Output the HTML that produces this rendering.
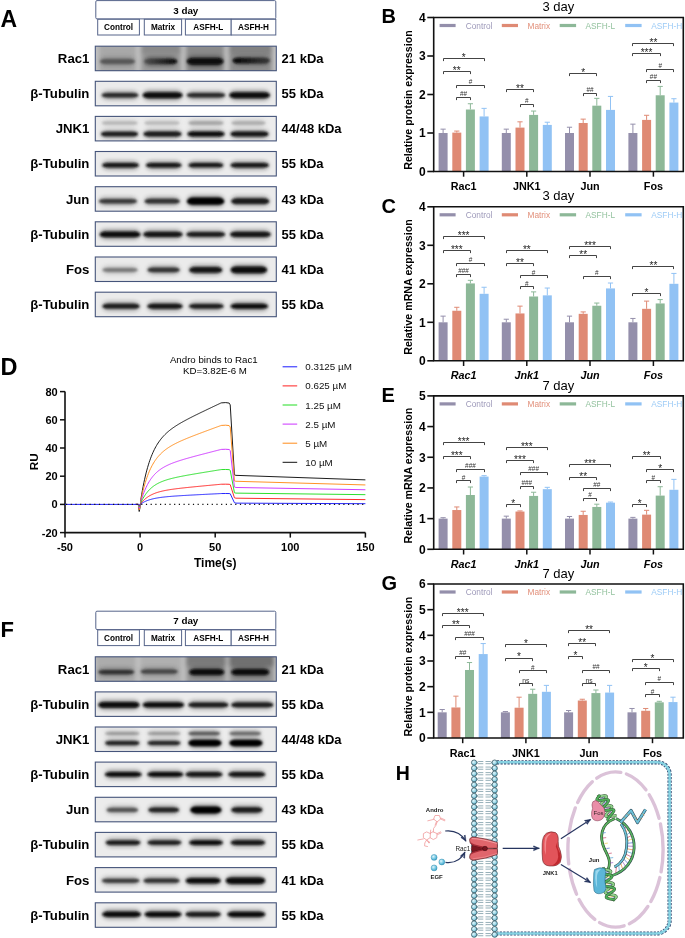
<!DOCTYPE html>
<html><head><meta charset="utf-8"><title>Figure</title>
<style>
html,body{margin:0;padding:0;background:#fff;}
body{width:685px;height:938px;overflow:hidden;}
svg{display:block;font-family:"Liberation Sans", sans-serif;will-change:transform;}
</style></head><body>
<svg width="685" height="938" viewBox="0 0 685 938">
<defs><filter id="blur1" x="-10%" y="-50%" width="120%" height="200%"><feGaussianBlur stdDeviation="0.9"/></filter><filter id="blur3" x="-20%" y="-50%" width="140%" height="200%"><feGaussianBlur stdDeviation="2.2"/></filter></defs>
<rect width="685" height="938" fill="#fff"/>
<rect x="95.8" y="0.60" width="180" height="18.3" rx="1.2" fill="#fff" stroke="#56648a" stroke-width="1"/>
<text x="185.80" y="13.60" font-size="9.8" font-weight="bold" text-anchor="middle" fill="#000" >3 day</text>
<rect x="97.70" y="19.30" width="41.70" height="15.70" fill="#fff" stroke="#56648a" stroke-width="1"/>
<text x="118.55" y="30.00" font-size="8.2" font-weight="bold" text-anchor="middle" fill="#000" >Control</text>
<rect x="144.30" y="19.30" width="37.30" height="15.70" fill="#fff" stroke="#56648a" stroke-width="1"/>
<text x="162.95" y="30.00" font-size="8.2" font-weight="bold" text-anchor="middle" fill="#000" >Matrix</text>
<rect x="185.40" y="19.30" width="45.80" height="15.70" fill="#fff" stroke="#56648a" stroke-width="1"/>
<text x="208.30" y="30.00" font-size="8.2" font-weight="bold" text-anchor="middle" fill="#000" >ASFH-L</text>
<rect x="231.20" y="19.30" width="44.60" height="15.70" fill="#fff" stroke="#56648a" stroke-width="1"/>
<text x="253.50" y="30.00" font-size="8.2" font-weight="bold" text-anchor="middle" fill="#000" >ASFH-H</text>
<text x="89.40" y="63.15" font-size="13.2" font-weight="bold" text-anchor="end" fill="#000" >Rac1</text>
<text x="281.60" y="63.15" font-size="13.0" font-weight="bold" text-anchor="start" fill="#000" >21 kDa</text>
<clipPath id="cg0_0"><rect x="95.3" y="46.20" width="181.00" height="24.5"/></clipPath>
<g clip-path="url(#cg0_0)">
<rect x="95.3" y="46.20" width="181.00" height="24.5" fill="#c2c2c2"/>
<g filter="url(#blur3)">
<rect x="99.00" y="43.20" width="37.00" height="33.00" fill="#a8a8a8"/>
<rect x="141.00" y="43.20" width="40.00" height="33.00" fill="#9a9a9a"/>
<rect x="186.00" y="43.20" width="38.00" height="33.00" fill="#8a8a8a"/>
<rect x="229.00" y="43.20" width="43.00" height="33.00" fill="#8e8e8e"/>
<rect x="141.00" y="43.20" width="40.00" height="11.00" fill="#8a8a8a"/>
<rect x="229.00" y="43.20" width="43.00" height="11.00" fill="#828282"/>
</g>
<g filter="url(#blur3)" opacity="0.4">
<rect x="100.20" y="57.00" width="34.60" height="9.00" rx="6.00" ry="4.50" fill="#585858"/>
<rect x="144.50" y="56.80" width="32.50" height="9.20" rx="6.00" ry="4.60" fill="#080808"/>
<rect x="187.00" y="55.90" width="36.30" height="10.80" rx="6.00" ry="5.40" fill="#080808"/>
<rect x="232.70" y="55.70" width="37.00" height="9.80" rx="6.00" ry="4.90" fill="#3a3a3a"/>
</g>
<g filter="url(#blur1)">
<rect x="100.20" y="59.00" width="34.60" height="5.00" rx="6.00" ry="2.50" fill="#585858"/>
<linearGradient id="lg0_0_1" x1="0" y1="0" x2="1" y2="0"><stop offset="0" stop-color="#505050"/><stop offset="1" stop-color="#080808"/></linearGradient>
<rect x="144.50" y="58.80" width="32.50" height="5.20" rx="6.00" ry="2.60" fill="url(#lg0_0_1)"/>
<rect x="187.00" y="57.90" width="36.30" height="6.80" rx="6.00" ry="3.40" fill="#080808"/>
<linearGradient id="lg0_0_3" x1="0" y1="0" x2="1" y2="0"><stop offset="0" stop-color="#060606"/><stop offset="1" stop-color="#3a3a3a"/></linearGradient>
<rect x="232.70" y="57.70" width="37.00" height="5.80" rx="6.00" ry="2.90" fill="url(#lg0_0_3)"/>
</g>
</g>
<rect x="95.3" y="46.20" width="181.00" height="24.5" fill="none" stroke="#45547a" stroke-width="1.1"/>
<text x="89.40" y="98.25" font-size="13.2" font-weight="bold" text-anchor="end" fill="#000" >β-Tubulin</text>
<text x="281.60" y="98.25" font-size="13.0" font-weight="bold" text-anchor="start" fill="#000" >55 kDa</text>
<clipPath id="cg0_1"><rect x="95.3" y="81.30" width="181.00" height="24.5"/></clipPath>
<g clip-path="url(#cg0_1)">
<rect x="95.3" y="81.30" width="181.00" height="24.5" fill="#ebebeb"/>
<g filter="url(#blur3)" opacity="0.4">
<rect x="101.90" y="90.90" width="36.30" height="8.60" rx="6.00" ry="4.30" fill="#2a2a2a"/>
<rect x="142.80" y="90.20" width="39.60" height="10.00" rx="6.00" ry="5.00" fill="#101010"/>
<rect x="187.00" y="90.90" width="38.00" height="8.60" rx="6.00" ry="4.30" fill="#2c2c2c"/>
<rect x="229.40" y="90.20" width="40.40" height="10.00" rx="6.00" ry="5.00" fill="#0c0c0c"/>
</g>
<g filter="url(#blur1)">
<rect x="101.90" y="92.90" width="36.30" height="4.60" rx="6.00" ry="2.30" fill="#2a2a2a"/>
<rect x="142.80" y="92.20" width="39.60" height="6.00" rx="6.00" ry="3.00" fill="#101010"/>
<rect x="187.00" y="92.90" width="38.00" height="4.60" rx="6.00" ry="2.30" fill="#2c2c2c"/>
<rect x="229.40" y="92.20" width="40.40" height="6.00" rx="6.00" ry="3.00" fill="#0c0c0c"/>
</g>
</g>
<rect x="95.3" y="81.30" width="181.00" height="24.5" fill="none" stroke="#45547a" stroke-width="1.1"/>
<text x="89.40" y="133.35" font-size="13.2" font-weight="bold" text-anchor="end" fill="#000" >JNK1</text>
<text x="281.60" y="133.35" font-size="13.0" font-weight="bold" text-anchor="start" fill="#000" >44/48 kDa</text>
<clipPath id="cg0_2"><rect x="95.3" y="116.40" width="181.00" height="24.5"/></clipPath>
<g clip-path="url(#cg0_2)">
<rect x="95.3" y="116.40" width="181.00" height="24.5" fill="#ececec"/>
<g filter="url(#blur3)" opacity="0.4">
<rect x="102.00" y="119.40" width="35.50" height="7.20" rx="6.00" ry="3.60" fill="#b4b4b4"/>
<rect x="144.50" y="119.40" width="35.00" height="7.20" rx="6.00" ry="3.60" fill="#b8b8b8"/>
<rect x="188.50" y="119.20" width="35.00" height="7.60" rx="6.00" ry="3.80" fill="#a4a4a4"/>
<rect x="231.50" y="119.30" width="34.00" height="7.40" rx="6.00" ry="3.70" fill="#acacac"/>
<rect x="101.00" y="129.70" width="37.00" height="8.60" rx="6.00" ry="4.30" fill="#1e1e1e"/>
<rect x="143.50" y="129.60" width="38.00" height="8.80" rx="6.00" ry="4.40" fill="#1e1e1e"/>
<rect x="187.50" y="129.40" width="37.00" height="9.20" rx="6.00" ry="4.60" fill="#0e0e0e"/>
<rect x="230.50" y="129.40" width="38.00" height="9.20" rx="6.00" ry="4.60" fill="#141414"/>
</g>
<g filter="url(#blur1)">
<rect x="102.00" y="121.40" width="35.50" height="3.20" rx="6.00" ry="1.60" fill="#b4b4b4"/>
<rect x="144.50" y="121.40" width="35.00" height="3.20" rx="6.00" ry="1.60" fill="#b8b8b8"/>
<rect x="188.50" y="121.20" width="35.00" height="3.60" rx="6.00" ry="1.80" fill="#a4a4a4"/>
<rect x="231.50" y="121.30" width="34.00" height="3.40" rx="6.00" ry="1.70" fill="#acacac"/>
<rect x="101.00" y="131.70" width="37.00" height="4.60" rx="6.00" ry="2.30" fill="#1e1e1e"/>
<rect x="143.50" y="131.60" width="38.00" height="4.80" rx="6.00" ry="2.40" fill="#1e1e1e"/>
<rect x="187.50" y="131.40" width="37.00" height="5.20" rx="6.00" ry="2.60" fill="#0e0e0e"/>
<rect x="230.50" y="131.40" width="38.00" height="5.20" rx="6.00" ry="2.60" fill="#141414"/>
</g>
</g>
<rect x="95.3" y="116.40" width="181.00" height="24.5" fill="none" stroke="#45547a" stroke-width="1.1"/>
<text x="89.40" y="168.45" font-size="13.2" font-weight="bold" text-anchor="end" fill="#000" >β-Tubulin</text>
<text x="281.60" y="168.45" font-size="13.0" font-weight="bold" text-anchor="start" fill="#000" >55 kDa</text>
<clipPath id="cg0_3"><rect x="95.3" y="151.50" width="181.00" height="24.5"/></clipPath>
<g clip-path="url(#cg0_3)">
<rect x="95.3" y="151.50" width="181.00" height="24.5" fill="#ececec"/>
<g filter="url(#blur3)" opacity="0.4">
<rect x="102.40" y="160.90" width="36.30" height="8.60" rx="6.00" ry="4.30" fill="#121212"/>
<rect x="146.10" y="160.90" width="35.20" height="8.60" rx="6.00" ry="4.30" fill="#121212"/>
<rect x="188.40" y="161.10" width="35.00" height="8.20" rx="6.00" ry="4.10" fill="#181818"/>
<rect x="230.70" y="160.90" width="38.00" height="8.60" rx="6.00" ry="4.30" fill="#121212"/>
</g>
<g filter="url(#blur1)">
<rect x="102.40" y="162.90" width="36.30" height="4.60" rx="6.00" ry="2.30" fill="#121212"/>
<rect x="146.10" y="162.90" width="35.20" height="4.60" rx="6.00" ry="2.30" fill="#121212"/>
<rect x="188.40" y="163.10" width="35.00" height="4.20" rx="6.00" ry="2.10" fill="#181818"/>
<rect x="230.70" y="162.90" width="38.00" height="4.60" rx="6.00" ry="2.30" fill="#121212"/>
</g>
</g>
<rect x="95.3" y="151.50" width="181.00" height="24.5" fill="none" stroke="#45547a" stroke-width="1.1"/>
<text x="89.40" y="203.65" font-size="13.2" font-weight="bold" text-anchor="end" fill="#000" >Jun</text>
<text x="281.60" y="203.65" font-size="13.0" font-weight="bold" text-anchor="start" fill="#000" >43 kDa</text>
<clipPath id="cg0_4"><rect x="95.3" y="186.70" width="181.00" height="24.5"/></clipPath>
<g clip-path="url(#cg0_4)">
<rect x="95.3" y="186.70" width="181.00" height="24.5" fill="#ebebeb"/>
<g filter="url(#blur3)" opacity="0.4">
<rect x="99.10" y="196.90" width="37.70" height="8.60" rx="6.00" ry="4.30" fill="#3a3a3a"/>
<rect x="144.70" y="196.80" width="35.00" height="8.80" rx="6.00" ry="4.40" fill="#333333"/>
<rect x="187.00" y="195.60" width="37.20" height="11.20" rx="6.00" ry="5.60" fill="#060606"/>
<rect x="231.30" y="196.30" width="37.90" height="9.80" rx="6.00" ry="4.90" fill="#1c1c1c"/>
</g>
<g filter="url(#blur1)">
<rect x="99.10" y="198.90" width="37.70" height="4.60" rx="6.00" ry="2.30" fill="#3a3a3a"/>
<rect x="144.70" y="198.80" width="35.00" height="4.80" rx="6.00" ry="2.40" fill="#333333"/>
<rect x="187.00" y="197.60" width="37.20" height="7.20" rx="6.00" ry="3.60" fill="#060606"/>
<rect x="231.30" y="198.30" width="37.90" height="5.80" rx="6.00" ry="2.90" fill="#1c1c1c"/>
</g>
</g>
<rect x="95.3" y="186.70" width="181.00" height="24.5" fill="none" stroke="#45547a" stroke-width="1.1"/>
<text x="89.40" y="238.75" font-size="13.2" font-weight="bold" text-anchor="end" fill="#000" >β-Tubulin</text>
<text x="281.60" y="238.75" font-size="13.0" font-weight="bold" text-anchor="start" fill="#000" >55 kDa</text>
<clipPath id="cg0_5"><rect x="95.3" y="221.80" width="181.00" height="24.5"/></clipPath>
<g clip-path="url(#cg0_5)">
<rect x="95.3" y="221.80" width="181.00" height="24.5" fill="#ebebeb"/>
<g filter="url(#blur3)" opacity="0.4">
<rect x="99.70" y="229.60" width="40.70" height="9.60" rx="6.00" ry="4.80" fill="#0e0e0e"/>
<rect x="143.40" y="229.80" width="39.00" height="9.20" rx="6.00" ry="4.60" fill="#121212"/>
<rect x="186.50" y="230.00" width="38.50" height="8.80" rx="6.00" ry="4.40" fill="#1a1a1a"/>
<rect x="230.20" y="229.80" width="40.40" height="9.20" rx="6.00" ry="4.60" fill="#141414"/>
</g>
<g filter="url(#blur1)">
<rect x="99.70" y="231.60" width="40.70" height="5.60" rx="6.00" ry="2.80" fill="#0e0e0e"/>
<rect x="143.40" y="231.80" width="39.00" height="5.20" rx="6.00" ry="2.60" fill="#121212"/>
<rect x="186.50" y="232.00" width="38.50" height="4.80" rx="6.00" ry="2.40" fill="#1a1a1a"/>
<rect x="230.20" y="231.80" width="40.40" height="5.20" rx="6.00" ry="2.60" fill="#141414"/>
</g>
</g>
<rect x="95.3" y="221.80" width="181.00" height="24.5" fill="none" stroke="#45547a" stroke-width="1.1"/>
<text x="89.40" y="273.95" font-size="13.2" font-weight="bold" text-anchor="end" fill="#000" >Fos</text>
<text x="281.60" y="273.95" font-size="13.0" font-weight="bold" text-anchor="start" fill="#000" >41 kDa</text>
<clipPath id="cg0_6"><rect x="95.3" y="257.00" width="181.00" height="24.5"/></clipPath>
<g clip-path="url(#cg0_6)">
<rect x="95.3" y="257.00" width="181.00" height="24.5" fill="#ebebeb"/>
<g filter="url(#blur3)" opacity="0.4">
<rect x="102.50" y="265.90" width="35.10" height="8.00" rx="6.00" ry="4.00" fill="#7a7a7a"/>
<rect x="147.50" y="265.60" width="32.20" height="8.60" rx="6.00" ry="4.30" fill="#363636"/>
<rect x="189.20" y="265.10" width="33.10" height="9.60" rx="6.00" ry="4.80" fill="#141414"/>
<rect x="230.70" y="264.60" width="36.30" height="10.60" rx="6.00" ry="5.30" fill="#080808"/>
</g>
<g filter="url(#blur1)">
<rect x="102.50" y="267.90" width="35.10" height="4.00" rx="6.00" ry="2.00" fill="#7a7a7a"/>
<rect x="147.50" y="267.60" width="32.20" height="4.60" rx="6.00" ry="2.30" fill="#363636"/>
<rect x="189.20" y="267.10" width="33.10" height="5.60" rx="6.00" ry="2.80" fill="#141414"/>
<rect x="230.70" y="266.60" width="36.30" height="6.60" rx="6.00" ry="3.30" fill="#080808"/>
</g>
</g>
<rect x="95.3" y="257.00" width="181.00" height="24.5" fill="none" stroke="#45547a" stroke-width="1.1"/>
<text x="89.40" y="309.15" font-size="13.2" font-weight="bold" text-anchor="end" fill="#000" >β-Tubulin</text>
<text x="281.60" y="309.15" font-size="13.0" font-weight="bold" text-anchor="start" fill="#000" >55 kDa</text>
<clipPath id="cg0_7"><rect x="95.3" y="292.20" width="181.00" height="24.5"/></clipPath>
<g clip-path="url(#cg0_7)">
<rect x="95.3" y="292.20" width="181.00" height="24.5" fill="#ebebeb"/>
<g filter="url(#blur3)" opacity="0.4">
<rect x="102.50" y="301.80" width="37.00" height="8.80" rx="6.00" ry="4.40" fill="#1c1c1c"/>
<rect x="147.50" y="301.70" width="34.90" height="9.00" rx="6.00" ry="4.50" fill="#121212"/>
<rect x="189.20" y="301.90" width="34.20" height="8.60" rx="6.00" ry="4.30" fill="#1c1c1c"/>
<rect x="230.70" y="301.70" width="37.20" height="9.00" rx="6.00" ry="4.50" fill="#111111"/>
</g>
<g filter="url(#blur1)">
<rect x="102.50" y="303.80" width="37.00" height="4.80" rx="6.00" ry="2.40" fill="#1c1c1c"/>
<rect x="147.50" y="303.70" width="34.90" height="5.00" rx="6.00" ry="2.50" fill="#121212"/>
<rect x="189.20" y="303.90" width="34.20" height="4.60" rx="6.00" ry="2.30" fill="#1c1c1c"/>
<rect x="230.70" y="303.70" width="37.20" height="5.00" rx="6.00" ry="2.50" fill="#111111"/>
</g>
</g>
<rect x="95.3" y="292.20" width="181.00" height="24.5" fill="none" stroke="#45547a" stroke-width="1.1"/>
<rect x="95.8" y="611.20" width="180" height="18.3" rx="1.2" fill="#fff" stroke="#56648a" stroke-width="1"/>
<text x="185.80" y="624.20" font-size="9.8" font-weight="bold" text-anchor="middle" fill="#000" >7 day</text>
<rect x="97.70" y="629.90" width="41.70" height="15.70" fill="#fff" stroke="#56648a" stroke-width="1"/>
<text x="118.55" y="640.60" font-size="8.2" font-weight="bold" text-anchor="middle" fill="#000" >Control</text>
<rect x="144.30" y="629.90" width="37.30" height="15.70" fill="#fff" stroke="#56648a" stroke-width="1"/>
<text x="162.95" y="640.60" font-size="8.2" font-weight="bold" text-anchor="middle" fill="#000" >Matrix</text>
<rect x="185.40" y="629.90" width="45.80" height="15.70" fill="#fff" stroke="#56648a" stroke-width="1"/>
<text x="208.30" y="640.60" font-size="8.2" font-weight="bold" text-anchor="middle" fill="#000" >ASFH-L</text>
<rect x="231.20" y="629.90" width="44.60" height="15.70" fill="#fff" stroke="#56648a" stroke-width="1"/>
<text x="253.50" y="640.60" font-size="8.2" font-weight="bold" text-anchor="middle" fill="#000" >ASFH-H</text>
<text x="89.40" y="673.75" font-size="13.2" font-weight="bold" text-anchor="end" fill="#000" >Rac1</text>
<text x="281.60" y="673.75" font-size="13.0" font-weight="bold" text-anchor="start" fill="#000" >21 kDa</text>
<clipPath id="cg610_0"><rect x="95.3" y="656.80" width="181.00" height="24.5"/></clipPath>
<g clip-path="url(#cg610_0)">
<rect x="95.3" y="656.80" width="181.00" height="24.5" fill="#c4c4c4"/>
<g filter="url(#blur3)">
<rect x="96.00" y="653.80" width="40.00" height="33.00" fill="#acacac"/>
<rect x="140.00" y="653.80" width="42.00" height="33.00" fill="#b0b0b0"/>
<rect x="186.00" y="653.80" width="40.00" height="17.00" fill="#7a7a7a"/>
<rect x="229.00" y="653.80" width="45.00" height="17.00" fill="#707070"/>
<rect x="186.00" y="666.80" width="40.00" height="20.00" fill="#9a9a9a"/>
<rect x="229.00" y="666.80" width="45.00" height="20.00" fill="#969696"/>
</g>
<g filter="url(#blur3)" opacity="0.4">
<rect x="98.30" y="668.00" width="35.80" height="8.20" rx="6.00" ry="4.10" fill="#333333"/>
<rect x="140.60" y="667.60" width="37.20" height="8.00" rx="6.00" ry="4.00" fill="#454545"/>
<rect x="189.20" y="667.10" width="35.00" height="10.00" rx="6.00" ry="5.00" fill="#0e0e0e"/>
<rect x="231.30" y="667.10" width="37.90" height="10.00" rx="6.00" ry="5.00" fill="#0e0e0e"/>
</g>
<g filter="url(#blur1)">
<rect x="98.30" y="670.00" width="35.80" height="4.20" rx="6.00" ry="2.10" fill="#333333"/>
<rect x="140.60" y="669.60" width="37.20" height="4.00" rx="6.00" ry="2.00" fill="#454545"/>
<rect x="189.20" y="669.10" width="35.00" height="6.00" rx="6.00" ry="3.00" fill="#0e0e0e"/>
<rect x="231.30" y="669.10" width="37.90" height="6.00" rx="6.00" ry="3.00" fill="#0e0e0e"/>
</g>
</g>
<rect x="95.3" y="656.80" width="181.00" height="24.5" fill="none" stroke="#45547a" stroke-width="1.1"/>
<text x="89.40" y="708.85" font-size="13.2" font-weight="bold" text-anchor="end" fill="#000" >β-Tubulin</text>
<text x="281.60" y="708.85" font-size="13.0" font-weight="bold" text-anchor="start" fill="#000" >55 kDa</text>
<clipPath id="cg610_1"><rect x="95.3" y="691.90" width="181.00" height="24.5"/></clipPath>
<g clip-path="url(#cg610_1)">
<rect x="95.3" y="691.90" width="181.00" height="24.5" fill="#ececec"/>
<g filter="url(#blur3)" opacity="0.4">
<rect x="98.30" y="700.00" width="41.20" height="9.80" rx="6.00" ry="4.90" fill="#080808"/>
<rect x="142.80" y="700.20" width="41.20" height="9.40" rx="6.00" ry="4.70" fill="#101010"/>
<rect x="188.40" y="700.60" width="39.90" height="8.60" rx="6.00" ry="4.30" fill="#1e1e1e"/>
<rect x="231.30" y="700.50" width="42.00" height="8.80" rx="6.00" ry="4.40" fill="#1a1a1a"/>
</g>
<g filter="url(#blur1)">
<rect x="98.30" y="702.00" width="41.20" height="5.80" rx="6.00" ry="2.90" fill="#080808"/>
<rect x="142.80" y="702.20" width="41.20" height="5.40" rx="6.00" ry="2.70" fill="#101010"/>
<rect x="188.40" y="702.60" width="39.90" height="4.60" rx="6.00" ry="2.30" fill="#1e1e1e"/>
<rect x="231.30" y="702.50" width="42.00" height="4.80" rx="6.00" ry="2.40" fill="#1a1a1a"/>
</g>
</g>
<rect x="95.3" y="691.90" width="181.00" height="24.5" fill="none" stroke="#45547a" stroke-width="1.1"/>
<text x="89.40" y="743.95" font-size="13.2" font-weight="bold" text-anchor="end" fill="#000" >JNK1</text>
<text x="281.60" y="743.95" font-size="13.0" font-weight="bold" text-anchor="start" fill="#000" >44/48 kDa</text>
<clipPath id="cg610_2"><rect x="95.3" y="727.00" width="181.00" height="24.5"/></clipPath>
<g clip-path="url(#cg610_2)">
<rect x="95.3" y="727.00" width="181.00" height="24.5" fill="#ececec"/>
<g filter="url(#blur3)" opacity="0.4">
<rect x="105.10" y="730.00" width="34.40" height="7.00" rx="6.00" ry="3.50" fill="#9a9a9a"/>
<rect x="147.50" y="730.00" width="33.00" height="7.00" rx="6.00" ry="3.50" fill="#9a9a9a"/>
<rect x="188.40" y="729.70" width="31.70" height="7.60" rx="6.00" ry="3.80" fill="#5a5a5a"/>
<rect x="229.40" y="729.80" width="31.60" height="7.40" rx="6.00" ry="3.70" fill="#6a6a6a"/>
<rect x="105.10" y="738.90" width="34.40" height="8.20" rx="6.00" ry="4.10" fill="#222222"/>
<rect x="147.50" y="738.90" width="33.00" height="8.20" rx="6.00" ry="4.10" fill="#262626"/>
<rect x="188.40" y="737.80" width="33.10" height="10.40" rx="6.00" ry="5.20" fill="#060606"/>
<rect x="229.40" y="737.80" width="33.10" height="10.40" rx="6.00" ry="5.20" fill="#060606"/>
</g>
<g filter="url(#blur1)">
<rect x="105.10" y="732.00" width="34.40" height="3.00" rx="6.00" ry="1.50" fill="#9a9a9a"/>
<rect x="147.50" y="732.00" width="33.00" height="3.00" rx="6.00" ry="1.50" fill="#9a9a9a"/>
<rect x="188.40" y="731.70" width="31.70" height="3.60" rx="6.00" ry="1.80" fill="#5a5a5a"/>
<rect x="229.40" y="731.80" width="31.60" height="3.40" rx="6.00" ry="1.70" fill="#6a6a6a"/>
<rect x="105.10" y="740.90" width="34.40" height="4.20" rx="6.00" ry="2.10" fill="#222222"/>
<rect x="147.50" y="740.90" width="33.00" height="4.20" rx="6.00" ry="2.10" fill="#262626"/>
<rect x="188.40" y="739.80" width="33.10" height="6.40" rx="6.00" ry="3.20" fill="#060606"/>
<rect x="229.40" y="739.80" width="33.10" height="6.40" rx="6.00" ry="3.20" fill="#060606"/>
</g>
</g>
<rect x="95.3" y="727.00" width="181.00" height="24.5" fill="none" stroke="#45547a" stroke-width="1.1"/>
<text x="89.40" y="779.05" font-size="13.2" font-weight="bold" text-anchor="end" fill="#000" >β-Tubulin</text>
<text x="281.60" y="779.05" font-size="13.0" font-weight="bold" text-anchor="start" fill="#000" >55 kDa</text>
<clipPath id="cg610_3"><rect x="95.3" y="762.10" width="181.00" height="24.5"/></clipPath>
<g clip-path="url(#cg610_3)">
<rect x="95.3" y="762.10" width="181.00" height="24.5" fill="#ececec"/>
<g filter="url(#blur3)" opacity="0.4">
<rect x="105.10" y="770.10" width="36.40" height="8.60" rx="6.00" ry="4.30" fill="#111111"/>
<rect x="147.50" y="770.00" width="35.70" height="8.80" rx="6.00" ry="4.40" fill="#111111"/>
<rect x="185.70" y="770.10" width="36.60" height="8.60" rx="6.00" ry="4.30" fill="#141414"/>
<rect x="228.50" y="770.10" width="36.60" height="8.60" rx="6.00" ry="4.30" fill="#141414"/>
</g>
<g filter="url(#blur1)">
<rect x="105.10" y="772.10" width="36.40" height="4.60" rx="6.00" ry="2.30" fill="#111111"/>
<rect x="147.50" y="772.00" width="35.70" height="4.80" rx="6.00" ry="2.40" fill="#111111"/>
<rect x="185.70" y="772.10" width="36.60" height="4.60" rx="6.00" ry="2.30" fill="#141414"/>
<rect x="228.50" y="772.10" width="36.60" height="4.60" rx="6.00" ry="2.30" fill="#141414"/>
</g>
</g>
<rect x="95.3" y="762.10" width="181.00" height="24.5" fill="none" stroke="#45547a" stroke-width="1.1"/>
<text x="89.40" y="814.25" font-size="13.2" font-weight="bold" text-anchor="end" fill="#000" >Jun</text>
<text x="281.60" y="814.25" font-size="13.0" font-weight="bold" text-anchor="start" fill="#000" >43 kDa</text>
<clipPath id="cg610_4"><rect x="95.3" y="797.30" width="181.00" height="24.5"/></clipPath>
<g clip-path="url(#cg610_4)">
<rect x="95.3" y="797.30" width="181.00" height="24.5" fill="#ececec"/>
<g filter="url(#blur3)" opacity="0.4">
<rect x="106.50" y="805.80" width="31.70" height="8.20" rx="6.00" ry="4.10" fill="#555555"/>
<rect x="148.30" y="805.50" width="30.80" height="8.80" rx="6.00" ry="4.40" fill="#222222"/>
<rect x="190.30" y="804.40" width="31.20" height="11.00" rx="6.00" ry="5.50" fill="#060606"/>
<rect x="231.30" y="805.20" width="31.10" height="9.40" rx="6.00" ry="4.70" fill="#1c1c1c"/>
</g>
<g filter="url(#blur1)">
<rect x="106.50" y="807.80" width="31.70" height="4.20" rx="6.00" ry="2.10" fill="#555555"/>
<rect x="148.30" y="807.50" width="30.80" height="4.80" rx="6.00" ry="2.40" fill="#222222"/>
<rect x="190.30" y="806.40" width="31.20" height="7.00" rx="6.00" ry="3.50" fill="#060606"/>
<rect x="231.30" y="807.20" width="31.10" height="5.40" rx="6.00" ry="2.70" fill="#1c1c1c"/>
</g>
</g>
<rect x="95.3" y="797.30" width="181.00" height="24.5" fill="none" stroke="#45547a" stroke-width="1.1"/>
<text x="89.40" y="849.35" font-size="13.2" font-weight="bold" text-anchor="end" fill="#000" >β-Tubulin</text>
<text x="281.60" y="849.35" font-size="13.0" font-weight="bold" text-anchor="start" fill="#000" >55 kDa</text>
<clipPath id="cg610_5"><rect x="95.3" y="832.40" width="181.00" height="24.5"/></clipPath>
<g clip-path="url(#cg610_5)">
<rect x="95.3" y="832.40" width="181.00" height="24.5" fill="#ececec"/>
<g filter="url(#blur3)" opacity="0.4">
<rect x="105.70" y="838.40" width="34.70" height="8.40" rx="6.00" ry="4.20" fill="#141414"/>
<rect x="147.50" y="838.50" width="33.80" height="8.20" rx="6.00" ry="4.10" fill="#1a1a1a"/>
<rect x="189.20" y="838.20" width="33.60" height="8.80" rx="6.00" ry="4.40" fill="#111111"/>
<rect x="230.70" y="838.30" width="34.40" height="8.60" rx="6.00" ry="4.30" fill="#151515"/>
</g>
<g filter="url(#blur1)">
<rect x="105.70" y="840.40" width="34.70" height="4.40" rx="6.00" ry="2.20" fill="#141414"/>
<rect x="147.50" y="840.50" width="33.80" height="4.20" rx="6.00" ry="2.10" fill="#1a1a1a"/>
<rect x="189.20" y="840.20" width="33.60" height="4.80" rx="6.00" ry="2.40" fill="#111111"/>
<rect x="230.70" y="840.30" width="34.40" height="4.60" rx="6.00" ry="2.30" fill="#151515"/>
</g>
</g>
<rect x="95.3" y="832.40" width="181.00" height="24.5" fill="none" stroke="#45547a" stroke-width="1.1"/>
<text x="89.40" y="884.55" font-size="13.2" font-weight="bold" text-anchor="end" fill="#000" >Fos</text>
<text x="281.60" y="884.55" font-size="13.0" font-weight="bold" text-anchor="start" fill="#000" >41 kDa</text>
<clipPath id="cg610_6"><rect x="95.3" y="867.60" width="181.00" height="24.5"/></clipPath>
<g clip-path="url(#cg610_6)">
<rect x="95.3" y="867.60" width="181.00" height="24.5" fill="#ececec"/>
<g filter="url(#blur3)" opacity="0.4">
<rect x="101.90" y="876.70" width="37.60" height="8.00" rx="6.00" ry="4.00" fill="#3a3a3a"/>
<rect x="143.40" y="876.60" width="36.30" height="8.20" rx="6.00" ry="4.10" fill="#333333"/>
<rect x="185.70" y="875.90" width="34.90" height="9.60" rx="6.00" ry="4.80" fill="#111111"/>
<rect x="225.80" y="875.40" width="39.30" height="10.60" rx="6.00" ry="5.30" fill="#0a0a0a"/>
</g>
<g filter="url(#blur1)">
<rect x="101.90" y="878.70" width="37.60" height="4.00" rx="6.00" ry="2.00" fill="#3a3a3a"/>
<rect x="143.40" y="878.60" width="36.30" height="4.20" rx="6.00" ry="2.10" fill="#333333"/>
<rect x="185.70" y="877.90" width="34.90" height="5.60" rx="6.00" ry="2.80" fill="#111111"/>
<rect x="225.80" y="877.40" width="39.30" height="6.60" rx="6.00" ry="3.30" fill="#0a0a0a"/>
</g>
</g>
<rect x="95.3" y="867.60" width="181.00" height="24.5" fill="none" stroke="#45547a" stroke-width="1.1"/>
<text x="89.40" y="919.75" font-size="13.2" font-weight="bold" text-anchor="end" fill="#000" >β-Tubulin</text>
<text x="281.60" y="919.75" font-size="13.0" font-weight="bold" text-anchor="start" fill="#000" >55 kDa</text>
<clipPath id="cg610_7"><rect x="95.3" y="902.80" width="181.00" height="24.5"/></clipPath>
<g clip-path="url(#cg610_7)">
<rect x="95.3" y="902.80" width="181.00" height="24.5" fill="#ececec"/>
<g filter="url(#blur3)" opacity="0.4">
<rect x="102.40" y="909.60" width="38.50" height="9.40" rx="6.00" ry="4.70" fill="#0e0e0e"/>
<rect x="144.70" y="909.70" width="36.60" height="9.20" rx="6.00" ry="4.60" fill="#111111"/>
<rect x="185.70" y="909.90" width="34.90" height="8.80" rx="6.00" ry="4.40" fill="#1c1c1c"/>
<rect x="227.50" y="909.70" width="37.60" height="9.20" rx="6.00" ry="4.60" fill="#111111"/>
</g>
<g filter="url(#blur1)">
<rect x="102.40" y="911.60" width="38.50" height="5.40" rx="6.00" ry="2.70" fill="#0e0e0e"/>
<rect x="144.70" y="911.70" width="36.60" height="5.20" rx="6.00" ry="2.60" fill="#111111"/>
<rect x="185.70" y="911.90" width="34.90" height="4.80" rx="6.00" ry="2.40" fill="#1c1c1c"/>
<rect x="227.50" y="911.70" width="37.60" height="5.20" rx="6.00" ry="2.60" fill="#111111"/>
</g>
</g>
<rect x="95.3" y="902.80" width="181.00" height="24.5" fill="none" stroke="#45547a" stroke-width="1.1"/>
<text x="0.6" y="26.7" font-size="23" font-weight="bold">A</text>
<text x="0.6" y="636.9" font-size="22" font-weight="bold">F</text>
<text x="381.4" y="23.40" font-size="20" font-weight="bold">B</text>
<text x="558.30" y="11.10" font-size="13.0" font-weight="normal" text-anchor="middle" fill="#000" >3 day</text>
<rect x="438.60" y="133.00" width="9.0" height="38.50" fill="#948fab"/>
<line x1="443.10" y1="133.00" x2="443.10" y2="129.15" stroke="#948fab" stroke-width="1"/>
<line x1="440.50" y1="129.15" x2="445.70" y2="129.15" stroke="#948fab" stroke-width="1"/>
<rect x="452.30" y="132.62" width="9.0" height="38.88" fill="#df8a74"/>
<line x1="456.80" y1="132.62" x2="456.80" y2="131.07" stroke="#df8a74" stroke-width="1"/>
<line x1="454.20" y1="131.07" x2="459.40" y2="131.07" stroke="#df8a74" stroke-width="1"/>
<rect x="465.90" y="109.51" width="9.0" height="61.99" fill="#8db898"/>
<line x1="470.40" y1="109.51" x2="470.40" y2="103.74" stroke="#8db898" stroke-width="1"/>
<line x1="467.80" y1="103.74" x2="473.00" y2="103.74" stroke="#8db898" stroke-width="1"/>
<rect x="479.60" y="116.44" width="9.0" height="55.06" fill="#91c2f4"/>
<line x1="484.10" y1="116.44" x2="484.10" y2="108.36" stroke="#91c2f4" stroke-width="1"/>
<line x1="481.50" y1="108.36" x2="486.70" y2="108.36" stroke="#91c2f4" stroke-width="1"/>
<rect x="501.80" y="133.00" width="9.0" height="38.50" fill="#948fab"/>
<line x1="506.30" y1="133.00" x2="506.30" y2="129.15" stroke="#948fab" stroke-width="1"/>
<line x1="503.70" y1="129.15" x2="508.90" y2="129.15" stroke="#948fab" stroke-width="1"/>
<rect x="515.50" y="127.61" width="9.0" height="43.89" fill="#df8a74"/>
<line x1="520.00" y1="127.61" x2="520.00" y2="121.84" stroke="#df8a74" stroke-width="1"/>
<line x1="517.40" y1="121.84" x2="522.60" y2="121.84" stroke="#df8a74" stroke-width="1"/>
<rect x="529.10" y="114.91" width="9.0" height="56.59" fill="#8db898"/>
<line x1="533.60" y1="114.91" x2="533.60" y2="111.06" stroke="#8db898" stroke-width="1"/>
<line x1="531.00" y1="111.06" x2="536.20" y2="111.06" stroke="#8db898" stroke-width="1"/>
<rect x="542.80" y="124.91" width="9.0" height="46.59" fill="#91c2f4"/>
<line x1="547.30" y1="124.91" x2="547.30" y2="122.22" stroke="#91c2f4" stroke-width="1"/>
<line x1="544.70" y1="122.22" x2="549.90" y2="122.22" stroke="#91c2f4" stroke-width="1"/>
<rect x="565.00" y="133.00" width="9.0" height="38.50" fill="#948fab"/>
<line x1="569.50" y1="133.00" x2="569.50" y2="127.22" stroke="#948fab" stroke-width="1"/>
<line x1="566.90" y1="127.22" x2="572.10" y2="127.22" stroke="#948fab" stroke-width="1"/>
<rect x="578.70" y="122.99" width="9.0" height="48.51" fill="#df8a74"/>
<line x1="583.20" y1="122.99" x2="583.20" y2="119.14" stroke="#df8a74" stroke-width="1"/>
<line x1="580.60" y1="119.14" x2="585.80" y2="119.14" stroke="#df8a74" stroke-width="1"/>
<rect x="592.30" y="105.67" width="9.0" height="65.83" fill="#8db898"/>
<line x1="596.80" y1="105.67" x2="596.80" y2="98.35" stroke="#8db898" stroke-width="1"/>
<line x1="594.20" y1="98.35" x2="599.40" y2="98.35" stroke="#8db898" stroke-width="1"/>
<rect x="606.00" y="109.90" width="9.0" height="61.60" fill="#91c2f4"/>
<line x1="610.50" y1="109.90" x2="610.50" y2="96.42" stroke="#91c2f4" stroke-width="1"/>
<line x1="607.90" y1="96.42" x2="613.10" y2="96.42" stroke="#91c2f4" stroke-width="1"/>
<rect x="628.40" y="133.00" width="9.0" height="38.50" fill="#948fab"/>
<line x1="632.90" y1="133.00" x2="632.90" y2="124.15" stroke="#948fab" stroke-width="1"/>
<line x1="630.30" y1="124.15" x2="635.50" y2="124.15" stroke="#948fab" stroke-width="1"/>
<rect x="642.10" y="119.91" width="9.0" height="51.59" fill="#df8a74"/>
<line x1="646.60" y1="119.91" x2="646.60" y2="115.29" stroke="#df8a74" stroke-width="1"/>
<line x1="644.00" y1="115.29" x2="649.20" y2="115.29" stroke="#df8a74" stroke-width="1"/>
<rect x="655.70" y="95.27" width="9.0" height="76.23" fill="#8db898"/>
<line x1="660.20" y1="95.27" x2="660.20" y2="86.42" stroke="#8db898" stroke-width="1"/>
<line x1="657.60" y1="86.42" x2="662.80" y2="86.42" stroke="#8db898" stroke-width="1"/>
<rect x="669.40" y="102.58" width="9.0" height="68.92" fill="#91c2f4"/>
<line x1="673.90" y1="102.58" x2="673.90" y2="98.73" stroke="#91c2f4" stroke-width="1"/>
<line x1="671.30" y1="98.73" x2="676.50" y2="98.73" stroke="#91c2f4" stroke-width="1"/>
<path d="M443.50,61.10V58.50H484.50V61.10" fill="none" stroke="#3a3a3a" stroke-width="0.95"/>
<text x="463.60" y="61.10" font-size="10.0" font-weight="normal" text-anchor="middle" fill="#222" >*</text>
<path d="M443.50,74.10V71.50H470.50V74.10" fill="none" stroke="#3a3a3a" stroke-width="0.95"/>
<text x="456.75" y="73.80" font-size="10.0" font-weight="normal" text-anchor="middle" fill="#222" >**</text>
<path d="M456.50,88.10V85.50H484.50V88.10" fill="none" stroke="#3a3a3a" stroke-width="0.95"/>
<text x="470.45" y="84.20" font-size="6.4" font-weight="normal" text-anchor="middle" fill="#333" >#</text>
<path d="M456.50,100.10V97.50H470.50V100.10" fill="none" stroke="#3a3a3a" stroke-width="0.95"/>
<text x="463.60" y="96.20" font-size="6.4" font-weight="normal" text-anchor="middle" fill="#333" >##</text>
<path d="M506.50,92.10V89.50H533.50V92.10" fill="none" stroke="#3a3a3a" stroke-width="0.95"/>
<text x="519.95" y="91.80" font-size="10.0" font-weight="normal" text-anchor="middle" fill="#222" >**</text>
<path d="M520.50,107.10V104.50H533.50V107.10" fill="none" stroke="#3a3a3a" stroke-width="0.95"/>
<text x="526.80" y="103.20" font-size="6.4" font-weight="normal" text-anchor="middle" fill="#333" >#</text>
<path d="M569.50,76.10V73.50H596.50V76.10" fill="none" stroke="#3a3a3a" stroke-width="0.95"/>
<text x="583.15" y="75.80" font-size="10.0" font-weight="normal" text-anchor="middle" fill="#222" >*</text>
<path d="M583.50,96.10V93.50H596.50V96.10" fill="none" stroke="#3a3a3a" stroke-width="0.95"/>
<text x="590.00" y="92.30" font-size="6.4" font-weight="normal" text-anchor="middle" fill="#333" >##</text>
<path d="M632.50,46.10V43.50H673.50V46.10" fill="none" stroke="#3a3a3a" stroke-width="0.95"/>
<text x="653.40" y="46.30" font-size="10.0" font-weight="normal" text-anchor="middle" fill="#222" >**</text>
<path d="M632.50,56.10V53.50H660.50V56.10" fill="none" stroke="#3a3a3a" stroke-width="0.95"/>
<text x="646.55" y="55.80" font-size="10.0" font-weight="normal" text-anchor="middle" fill="#222" >***</text>
<path d="M646.50,72.10V69.50H673.50V72.10" fill="none" stroke="#3a3a3a" stroke-width="0.95"/>
<text x="660.25" y="68.20" font-size="6.4" font-weight="normal" text-anchor="middle" fill="#333" >#</text>
<path d="M646.50,83.10V80.50H660.50V83.10" fill="none" stroke="#3a3a3a" stroke-width="0.95"/>
<text x="653.40" y="79.00" font-size="6.4" font-weight="normal" text-anchor="middle" fill="#333" >##</text>
<path d="M433.70,17.50H683.30V171.50H433.70Z" fill="none" stroke="#111" stroke-width="1.6"/>
<line x1="427.30" y1="171.50" x2="433.70" y2="171.50" stroke="#111" stroke-width="1.6"/>
<text x="425.60" y="175.80" font-size="12.0" font-weight="bold" text-anchor="end" fill="#000" >0</text>
<line x1="427.30" y1="133.00" x2="433.70" y2="133.00" stroke="#111" stroke-width="1.6"/>
<text x="425.60" y="137.30" font-size="12.0" font-weight="bold" text-anchor="end" fill="#000" >1</text>
<line x1="427.30" y1="94.50" x2="433.70" y2="94.50" stroke="#111" stroke-width="1.6"/>
<text x="425.60" y="98.80" font-size="12.0" font-weight="bold" text-anchor="end" fill="#000" >2</text>
<line x1="427.30" y1="56.00" x2="433.70" y2="56.00" stroke="#111" stroke-width="1.6"/>
<text x="425.60" y="60.30" font-size="12.0" font-weight="bold" text-anchor="end" fill="#000" >3</text>
<line x1="427.30" y1="17.50" x2="433.70" y2="17.50" stroke="#111" stroke-width="1.6"/>
<text x="425.60" y="21.80" font-size="12.0" font-weight="bold" text-anchor="end" fill="#000" >4</text>
<line x1="463.60" y1="171.50" x2="463.60" y2="176.70" stroke="#111" stroke-width="1.5"/>
<text x="463.60" y="190.10" font-size="10.8" font-weight="bold" text-anchor="middle" fill="#000" >Rac1</text>
<line x1="526.80" y1="171.50" x2="526.80" y2="176.70" stroke="#111" stroke-width="1.5"/>
<text x="526.80" y="190.10" font-size="10.8" font-weight="bold" text-anchor="middle" fill="#000" >JNK1</text>
<line x1="590.00" y1="171.50" x2="590.00" y2="176.70" stroke="#111" stroke-width="1.5"/>
<text x="590.00" y="190.10" font-size="10.8" font-weight="bold" text-anchor="middle" fill="#000" >Jun</text>
<line x1="653.40" y1="171.50" x2="653.40" y2="176.70" stroke="#111" stroke-width="1.5"/>
<text x="653.40" y="190.10" font-size="10.8" font-weight="bold" text-anchor="middle" fill="#000" >Fos</text>
<text transform="translate(412.0,100.00) rotate(-90)" font-size="10.7" font-weight="bold" text-anchor="middle">Relative protein expression</text>
<rect x="439.6" y="23.90" width="16.00" height="3.2" fill="#948fab"/>
<text x="465.70" y="28.50" font-size="8.3" font-weight="normal" text-anchor="start" fill="#9d99b9" >Control</text>
<rect x="501.8" y="23.90" width="16.20" height="3.2" fill="#df8a74"/>
<text x="527.50" y="28.50" font-size="8.3" font-weight="normal" text-anchor="start" fill="#e2907b" >Matrix</text>
<rect x="559.7" y="23.90" width="16.40" height="3.2" fill="#8db898"/>
<text x="585.50" y="28.50" font-size="8.3" font-weight="normal" text-anchor="start" fill="#93c29e" >ASFH-L</text>
<rect x="625.2" y="23.90" width="16.40" height="3.2" fill="#91c2f4"/>
<text x="651.30" y="28.50" font-size="8.3" font-weight="normal" text-anchor="start" fill="#9ccbf6" >ASFH-H</text>
<text x="381.4" y="212.70" font-size="20" font-weight="bold">C</text>
<text x="558.30" y="200.40" font-size="13.0" font-weight="normal" text-anchor="middle" fill="#000" >3 day</text>
<rect x="438.60" y="322.30" width="9.0" height="38.50" fill="#948fab"/>
<line x1="443.10" y1="322.30" x2="443.10" y2="316.14" stroke="#948fab" stroke-width="1"/>
<line x1="440.50" y1="316.14" x2="445.70" y2="316.14" stroke="#948fab" stroke-width="1"/>
<rect x="452.30" y="310.75" width="9.0" height="50.05" fill="#df8a74"/>
<line x1="456.80" y1="310.75" x2="456.80" y2="307.29" stroke="#df8a74" stroke-width="1"/>
<line x1="454.20" y1="307.29" x2="459.40" y2="307.29" stroke="#df8a74" stroke-width="1"/>
<rect x="465.90" y="283.42" width="9.0" height="77.38" fill="#8db898"/>
<line x1="470.40" y1="283.42" x2="470.40" y2="280.34" stroke="#8db898" stroke-width="1"/>
<line x1="467.80" y1="280.34" x2="473.00" y2="280.34" stroke="#8db898" stroke-width="1"/>
<rect x="479.60" y="293.81" width="9.0" height="66.99" fill="#91c2f4"/>
<line x1="484.10" y1="293.81" x2="484.10" y2="287.26" stroke="#91c2f4" stroke-width="1"/>
<line x1="481.50" y1="287.26" x2="486.70" y2="287.26" stroke="#91c2f4" stroke-width="1"/>
<rect x="501.80" y="322.30" width="9.0" height="38.50" fill="#948fab"/>
<line x1="506.30" y1="322.30" x2="506.30" y2="319.22" stroke="#948fab" stroke-width="1"/>
<line x1="503.70" y1="319.22" x2="508.90" y2="319.22" stroke="#948fab" stroke-width="1"/>
<rect x="515.50" y="313.44" width="9.0" height="47.36" fill="#df8a74"/>
<line x1="520.00" y1="313.44" x2="520.00" y2="306.13" stroke="#df8a74" stroke-width="1"/>
<line x1="517.40" y1="306.13" x2="522.60" y2="306.13" stroke="#df8a74" stroke-width="1"/>
<rect x="529.10" y="296.50" width="9.0" height="64.30" fill="#8db898"/>
<line x1="533.60" y1="296.50" x2="533.60" y2="291.88" stroke="#8db898" stroke-width="1"/>
<line x1="531.00" y1="291.88" x2="536.20" y2="291.88" stroke="#8db898" stroke-width="1"/>
<rect x="542.80" y="295.35" width="9.0" height="65.45" fill="#91c2f4"/>
<line x1="547.30" y1="295.35" x2="547.30" y2="288.04" stroke="#91c2f4" stroke-width="1"/>
<line x1="544.70" y1="288.04" x2="549.90" y2="288.04" stroke="#91c2f4" stroke-width="1"/>
<rect x="565.00" y="322.30" width="9.0" height="38.50" fill="#948fab"/>
<line x1="569.50" y1="322.30" x2="569.50" y2="316.14" stroke="#948fab" stroke-width="1"/>
<line x1="566.90" y1="316.14" x2="572.10" y2="316.14" stroke="#948fab" stroke-width="1"/>
<rect x="578.70" y="313.83" width="9.0" height="46.97" fill="#df8a74"/>
<line x1="583.20" y1="313.83" x2="583.20" y2="311.91" stroke="#df8a74" stroke-width="1"/>
<line x1="580.60" y1="311.91" x2="585.80" y2="311.91" stroke="#df8a74" stroke-width="1"/>
<rect x="592.30" y="305.75" width="9.0" height="55.06" fill="#8db898"/>
<line x1="596.80" y1="305.75" x2="596.80" y2="303.05" stroke="#8db898" stroke-width="1"/>
<line x1="594.20" y1="303.05" x2="599.40" y2="303.05" stroke="#8db898" stroke-width="1"/>
<rect x="606.00" y="288.42" width="9.0" height="72.38" fill="#91c2f4"/>
<line x1="610.50" y1="288.42" x2="610.50" y2="283.03" stroke="#91c2f4" stroke-width="1"/>
<line x1="607.90" y1="283.03" x2="613.10" y2="283.03" stroke="#91c2f4" stroke-width="1"/>
<rect x="628.40" y="322.30" width="9.0" height="38.50" fill="#948fab"/>
<line x1="632.90" y1="322.30" x2="632.90" y2="318.45" stroke="#948fab" stroke-width="1"/>
<line x1="630.30" y1="318.45" x2="635.50" y2="318.45" stroke="#948fab" stroke-width="1"/>
<rect x="642.10" y="308.82" width="9.0" height="51.98" fill="#df8a74"/>
<line x1="646.60" y1="308.82" x2="646.60" y2="301.12" stroke="#df8a74" stroke-width="1"/>
<line x1="644.00" y1="301.12" x2="649.20" y2="301.12" stroke="#df8a74" stroke-width="1"/>
<rect x="655.70" y="303.44" width="9.0" height="57.37" fill="#8db898"/>
<line x1="660.20" y1="303.44" x2="660.20" y2="299.59" stroke="#8db898" stroke-width="1"/>
<line x1="657.60" y1="299.59" x2="662.80" y2="299.59" stroke="#8db898" stroke-width="1"/>
<rect x="669.40" y="283.80" width="9.0" height="77.00" fill="#91c2f4"/>
<line x1="673.90" y1="283.80" x2="673.90" y2="273.41" stroke="#91c2f4" stroke-width="1"/>
<line x1="671.30" y1="273.41" x2="676.50" y2="273.41" stroke="#91c2f4" stroke-width="1"/>
<path d="M443.50,239.10V236.50H484.50V239.10" fill="none" stroke="#3a3a3a" stroke-width="0.95"/>
<text x="463.60" y="238.80" font-size="10.0" font-weight="normal" text-anchor="middle" fill="#222" >***</text>
<path d="M443.50,253.10V250.50H470.50V253.10" fill="none" stroke="#3a3a3a" stroke-width="0.95"/>
<text x="456.75" y="252.50" font-size="10.0" font-weight="normal" text-anchor="middle" fill="#222" >***</text>
<path d="M456.50,266.10V263.50H484.50V266.10" fill="none" stroke="#3a3a3a" stroke-width="0.95"/>
<text x="470.45" y="262.00" font-size="6.4" font-weight="normal" text-anchor="middle" fill="#333" >#</text>
<path d="M456.50,277.10V274.50H470.50V277.10" fill="none" stroke="#3a3a3a" stroke-width="0.95"/>
<text x="463.60" y="273.40" font-size="6.4" font-weight="normal" text-anchor="middle" fill="#333" >###</text>
<path d="M506.50,253.10V250.50H547.50V253.10" fill="none" stroke="#3a3a3a" stroke-width="0.95"/>
<text x="526.80" y="252.50" font-size="10.0" font-weight="normal" text-anchor="middle" fill="#222" >**</text>
<path d="M506.50,266.10V263.50H533.50V266.10" fill="none" stroke="#3a3a3a" stroke-width="0.95"/>
<text x="519.95" y="265.80" font-size="10.0" font-weight="normal" text-anchor="middle" fill="#222" >**</text>
<path d="M520.50,278.10V275.50H547.50V278.10" fill="none" stroke="#3a3a3a" stroke-width="0.95"/>
<text x="533.65" y="274.70" font-size="6.4" font-weight="normal" text-anchor="middle" fill="#333" >#</text>
<path d="M520.50,289.10V286.50H533.50V289.10" fill="none" stroke="#3a3a3a" stroke-width="0.95"/>
<text x="526.80" y="285.50" font-size="6.4" font-weight="normal" text-anchor="middle" fill="#333" >#</text>
<path d="M569.50,249.10V246.50H610.50V249.10" fill="none" stroke="#3a3a3a" stroke-width="0.95"/>
<text x="590.00" y="248.70" font-size="10.0" font-weight="normal" text-anchor="middle" fill="#222" >***</text>
<path d="M569.50,258.10V255.50H596.50V258.10" fill="none" stroke="#3a3a3a" stroke-width="0.95"/>
<text x="583.15" y="258.20" font-size="10.0" font-weight="normal" text-anchor="middle" fill="#222" >**</text>
<path d="M583.50,279.10V276.50H610.50V279.10" fill="none" stroke="#3a3a3a" stroke-width="0.95"/>
<text x="596.85" y="275.30" font-size="6.4" font-weight="normal" text-anchor="middle" fill="#333" >#</text>
<path d="M632.50,269.10V266.50H673.50V269.10" fill="none" stroke="#3a3a3a" stroke-width="0.95"/>
<text x="653.40" y="268.60" font-size="10.0" font-weight="normal" text-anchor="middle" fill="#222" >**</text>
<path d="M632.50,296.10V293.50H660.50V296.10" fill="none" stroke="#3a3a3a" stroke-width="0.95"/>
<text x="646.55" y="296.10" font-size="10.0" font-weight="normal" text-anchor="middle" fill="#222" >*</text>
<path d="M433.70,206.80H683.30V360.80H433.70Z" fill="none" stroke="#111" stroke-width="1.6"/>
<line x1="427.30" y1="360.80" x2="433.70" y2="360.80" stroke="#111" stroke-width="1.6"/>
<text x="425.60" y="365.10" font-size="12.0" font-weight="bold" text-anchor="end" fill="#000" >0</text>
<line x1="427.30" y1="322.30" x2="433.70" y2="322.30" stroke="#111" stroke-width="1.6"/>
<text x="425.60" y="326.60" font-size="12.0" font-weight="bold" text-anchor="end" fill="#000" >1</text>
<line x1="427.30" y1="283.80" x2="433.70" y2="283.80" stroke="#111" stroke-width="1.6"/>
<text x="425.60" y="288.10" font-size="12.0" font-weight="bold" text-anchor="end" fill="#000" >2</text>
<line x1="427.30" y1="245.30" x2="433.70" y2="245.30" stroke="#111" stroke-width="1.6"/>
<text x="425.60" y="249.60" font-size="12.0" font-weight="bold" text-anchor="end" fill="#000" >3</text>
<line x1="427.30" y1="206.80" x2="433.70" y2="206.80" stroke="#111" stroke-width="1.6"/>
<text x="425.60" y="211.10" font-size="12.0" font-weight="bold" text-anchor="end" fill="#000" >4</text>
<line x1="463.60" y1="360.80" x2="463.60" y2="366.00" stroke="#111" stroke-width="1.5"/>
<text x="463.60" y="379.40" font-size="10.8" font-weight="bold" text-anchor="middle" fill="#000" font-style="italic" >Rac1</text>
<line x1="526.80" y1="360.80" x2="526.80" y2="366.00" stroke="#111" stroke-width="1.5"/>
<text x="526.80" y="379.40" font-size="10.8" font-weight="bold" text-anchor="middle" fill="#000" font-style="italic" >Jnk1</text>
<line x1="590.00" y1="360.80" x2="590.00" y2="366.00" stroke="#111" stroke-width="1.5"/>
<text x="590.00" y="379.40" font-size="10.8" font-weight="bold" text-anchor="middle" fill="#000" font-style="italic" >Jun</text>
<line x1="653.40" y1="360.80" x2="653.40" y2="366.00" stroke="#111" stroke-width="1.5"/>
<text x="653.40" y="379.40" font-size="10.8" font-weight="bold" text-anchor="middle" fill="#000" font-style="italic" >Fos</text>
<text transform="translate(412.0,287.00) rotate(-90)" font-size="10.7" font-weight="bold" text-anchor="middle">Relative mRNA expression</text>
<rect x="439.6" y="213.20" width="16.00" height="3.2" fill="#948fab"/>
<text x="465.70" y="217.80" font-size="8.3" font-weight="normal" text-anchor="start" fill="#9d99b9" >Control</text>
<rect x="501.8" y="213.20" width="16.20" height="3.2" fill="#df8a74"/>
<text x="527.50" y="217.80" font-size="8.3" font-weight="normal" text-anchor="start" fill="#e2907b" >Matrix</text>
<rect x="559.7" y="213.20" width="16.40" height="3.2" fill="#8db898"/>
<text x="585.50" y="217.80" font-size="8.3" font-weight="normal" text-anchor="start" fill="#93c29e" >ASFH-L</text>
<rect x="625.2" y="213.20" width="16.40" height="3.2" fill="#91c2f4"/>
<text x="651.30" y="217.80" font-size="8.3" font-weight="normal" text-anchor="start" fill="#9ccbf6" >ASFH-H</text>
<text x="381.4" y="401.80" font-size="20" font-weight="bold">E</text>
<text x="558.30" y="389.50" font-size="13.0" font-weight="normal" text-anchor="middle" fill="#000" >7 day</text>
<rect x="438.60" y="518.62" width="9.0" height="30.68" fill="#948fab"/>
<line x1="443.10" y1="518.62" x2="443.10" y2="517.70" stroke="#948fab" stroke-width="1"/>
<line x1="440.50" y1="517.70" x2="445.70" y2="517.70" stroke="#948fab" stroke-width="1"/>
<rect x="452.30" y="510.03" width="9.0" height="39.27" fill="#df8a74"/>
<line x1="456.80" y1="510.03" x2="456.80" y2="506.96" stroke="#df8a74" stroke-width="1"/>
<line x1="454.20" y1="506.96" x2="459.40" y2="506.96" stroke="#df8a74" stroke-width="1"/>
<rect x="465.90" y="495.00" width="9.0" height="54.30" fill="#8db898"/>
<line x1="470.40" y1="495.00" x2="470.40" y2="487.02" stroke="#8db898" stroke-width="1"/>
<line x1="467.80" y1="487.02" x2="473.00" y2="487.02" stroke="#8db898" stroke-width="1"/>
<rect x="479.60" y="476.59" width="9.0" height="72.71" fill="#91c2f4"/>
<line x1="484.10" y1="476.59" x2="484.10" y2="475.67" stroke="#91c2f4" stroke-width="1"/>
<line x1="481.50" y1="475.67" x2="486.70" y2="475.67" stroke="#91c2f4" stroke-width="1"/>
<rect x="501.80" y="518.62" width="9.0" height="30.68" fill="#948fab"/>
<line x1="506.30" y1="518.62" x2="506.30" y2="516.17" stroke="#948fab" stroke-width="1"/>
<line x1="503.70" y1="516.17" x2="508.90" y2="516.17" stroke="#948fab" stroke-width="1"/>
<rect x="515.50" y="511.56" width="9.0" height="37.74" fill="#df8a74"/>
<line x1="520.00" y1="511.56" x2="520.00" y2="510.95" stroke="#df8a74" stroke-width="1"/>
<line x1="517.40" y1="510.95" x2="522.60" y2="510.95" stroke="#df8a74" stroke-width="1"/>
<rect x="529.10" y="495.92" width="9.0" height="53.38" fill="#8db898"/>
<line x1="533.60" y1="495.92" x2="533.60" y2="492.24" stroke="#8db898" stroke-width="1"/>
<line x1="531.00" y1="492.24" x2="536.20" y2="492.24" stroke="#8db898" stroke-width="1"/>
<rect x="542.80" y="489.17" width="9.0" height="60.13" fill="#91c2f4"/>
<line x1="547.30" y1="489.17" x2="547.30" y2="487.33" stroke="#91c2f4" stroke-width="1"/>
<line x1="544.70" y1="487.33" x2="549.90" y2="487.33" stroke="#91c2f4" stroke-width="1"/>
<rect x="565.00" y="518.62" width="9.0" height="30.68" fill="#948fab"/>
<line x1="569.50" y1="518.62" x2="569.50" y2="516.47" stroke="#948fab" stroke-width="1"/>
<line x1="566.90" y1="516.47" x2="572.10" y2="516.47" stroke="#948fab" stroke-width="1"/>
<rect x="578.70" y="514.94" width="9.0" height="34.36" fill="#df8a74"/>
<line x1="583.20" y1="514.94" x2="583.20" y2="511.26" stroke="#df8a74" stroke-width="1"/>
<line x1="580.60" y1="511.26" x2="585.80" y2="511.26" stroke="#df8a74" stroke-width="1"/>
<rect x="592.30" y="506.96" width="9.0" height="42.34" fill="#8db898"/>
<line x1="596.80" y1="506.96" x2="596.80" y2="504.20" stroke="#8db898" stroke-width="1"/>
<line x1="594.20" y1="504.20" x2="599.40" y2="504.20" stroke="#8db898" stroke-width="1"/>
<rect x="606.00" y="502.67" width="9.0" height="46.63" fill="#91c2f4"/>
<line x1="610.50" y1="502.67" x2="610.50" y2="502.05" stroke="#91c2f4" stroke-width="1"/>
<line x1="607.90" y1="502.05" x2="613.10" y2="502.05" stroke="#91c2f4" stroke-width="1"/>
<rect x="628.40" y="518.62" width="9.0" height="30.68" fill="#948fab"/>
<line x1="632.90" y1="518.62" x2="632.90" y2="517.39" stroke="#948fab" stroke-width="1"/>
<line x1="630.30" y1="517.39" x2="635.50" y2="517.39" stroke="#948fab" stroke-width="1"/>
<rect x="642.10" y="514.63" width="9.0" height="34.67" fill="#df8a74"/>
<line x1="646.60" y1="514.63" x2="646.60" y2="510.34" stroke="#df8a74" stroke-width="1"/>
<line x1="644.00" y1="510.34" x2="649.20" y2="510.34" stroke="#df8a74" stroke-width="1"/>
<rect x="655.70" y="495.61" width="9.0" height="53.69" fill="#8db898"/>
<line x1="660.20" y1="495.61" x2="660.20" y2="486.71" stroke="#8db898" stroke-width="1"/>
<line x1="657.60" y1="486.71" x2="662.80" y2="486.71" stroke="#8db898" stroke-width="1"/>
<rect x="669.40" y="489.78" width="9.0" height="59.52" fill="#91c2f4"/>
<line x1="673.90" y1="489.78" x2="673.90" y2="479.35" stroke="#91c2f4" stroke-width="1"/>
<line x1="671.30" y1="479.35" x2="676.50" y2="479.35" stroke="#91c2f4" stroke-width="1"/>
<path d="M443.50,445.10V442.50H484.50V445.10" fill="none" stroke="#3a3a3a" stroke-width="0.95"/>
<text x="463.60" y="445.00" font-size="10.0" font-weight="normal" text-anchor="middle" fill="#222" >***</text>
<path d="M443.50,459.10V456.50H470.50V459.10" fill="none" stroke="#3a3a3a" stroke-width="0.95"/>
<text x="456.75" y="458.70" font-size="10.0" font-weight="normal" text-anchor="middle" fill="#222" >***</text>
<path d="M456.50,472.10V469.50H484.50V472.10" fill="none" stroke="#3a3a3a" stroke-width="0.95"/>
<text x="470.45" y="468.20" font-size="6.4" font-weight="normal" text-anchor="middle" fill="#333" >###</text>
<path d="M456.50,483.10V480.50H470.50V483.10" fill="none" stroke="#3a3a3a" stroke-width="0.95"/>
<text x="463.60" y="479.60" font-size="6.4" font-weight="normal" text-anchor="middle" fill="#333" >#</text>
<path d="M506.50,450.10V447.50H547.50V450.10" fill="none" stroke="#3a3a3a" stroke-width="0.95"/>
<text x="526.80" y="450.10" font-size="10.0" font-weight="normal" text-anchor="middle" fill="#222" >***</text>
<path d="M506.50,463.10V460.50H533.50V463.10" fill="none" stroke="#3a3a3a" stroke-width="0.95"/>
<text x="519.95" y="462.50" font-size="10.0" font-weight="normal" text-anchor="middle" fill="#222" >***</text>
<path d="M520.50,475.10V472.50H547.50V475.10" fill="none" stroke="#3a3a3a" stroke-width="0.95"/>
<text x="533.65" y="471.40" font-size="6.4" font-weight="normal" text-anchor="middle" fill="#333" >###</text>
<path d="M520.50,489.10V486.50H533.50V489.10" fill="none" stroke="#3a3a3a" stroke-width="0.95"/>
<text x="526.80" y="485.10" font-size="6.4" font-weight="normal" text-anchor="middle" fill="#333" >###</text>
<path d="M506.50,507.10V504.50H520.50V507.10" fill="none" stroke="#3a3a3a" stroke-width="0.95"/>
<text x="513.15" y="506.70" font-size="10.0" font-weight="normal" text-anchor="middle" fill="#222" >*</text>
<path d="M569.50,467.10V464.50H610.50V467.10" fill="none" stroke="#3a3a3a" stroke-width="0.95"/>
<text x="590.00" y="467.20" font-size="10.0" font-weight="normal" text-anchor="middle" fill="#222" >***</text>
<path d="M569.50,480.10V477.50H596.50V480.10" fill="none" stroke="#3a3a3a" stroke-width="0.95"/>
<text x="583.15" y="479.50" font-size="10.0" font-weight="normal" text-anchor="middle" fill="#222" >**</text>
<path d="M583.50,491.10V488.50H610.50V491.10" fill="none" stroke="#3a3a3a" stroke-width="0.95"/>
<text x="596.85" y="487.00" font-size="6.4" font-weight="normal" text-anchor="middle" fill="#333" >##</text>
<path d="M583.50,501.10V498.50H596.50V501.10" fill="none" stroke="#3a3a3a" stroke-width="0.95"/>
<text x="590.00" y="497.00" font-size="6.4" font-weight="normal" text-anchor="middle" fill="#333" >#</text>
<path d="M632.50,459.10V456.50H660.50V459.10" fill="none" stroke="#3a3a3a" stroke-width="0.95"/>
<text x="646.55" y="458.70" font-size="10.0" font-weight="normal" text-anchor="middle" fill="#222" >**</text>
<path d="M646.50,472.10V469.50H673.50V472.10" fill="none" stroke="#3a3a3a" stroke-width="0.95"/>
<text x="660.25" y="471.60" font-size="10.0" font-weight="normal" text-anchor="middle" fill="#222" >*</text>
<path d="M646.50,483.10V480.50H660.50V483.10" fill="none" stroke="#3a3a3a" stroke-width="0.95"/>
<text x="653.40" y="479.60" font-size="6.4" font-weight="normal" text-anchor="middle" fill="#333" >#</text>
<path d="M632.50,507.10V504.50H646.50V507.10" fill="none" stroke="#3a3a3a" stroke-width="0.95"/>
<text x="639.75" y="506.70" font-size="10.0" font-weight="normal" text-anchor="middle" fill="#222" >*</text>
<path d="M433.70,395.90H683.30V549.30H433.70Z" fill="none" stroke="#111" stroke-width="1.6"/>
<line x1="427.30" y1="549.30" x2="433.70" y2="549.30" stroke="#111" stroke-width="1.6"/>
<text x="425.60" y="553.60" font-size="12.0" font-weight="bold" text-anchor="end" fill="#000" >0</text>
<line x1="427.30" y1="518.62" x2="433.70" y2="518.62" stroke="#111" stroke-width="1.6"/>
<text x="425.60" y="522.92" font-size="12.0" font-weight="bold" text-anchor="end" fill="#000" >1</text>
<line x1="427.30" y1="487.94" x2="433.70" y2="487.94" stroke="#111" stroke-width="1.6"/>
<text x="425.60" y="492.24" font-size="12.0" font-weight="bold" text-anchor="end" fill="#000" >2</text>
<line x1="427.30" y1="457.26" x2="433.70" y2="457.26" stroke="#111" stroke-width="1.6"/>
<text x="425.60" y="461.56" font-size="12.0" font-weight="bold" text-anchor="end" fill="#000" >3</text>
<line x1="427.30" y1="426.58" x2="433.70" y2="426.58" stroke="#111" stroke-width="1.6"/>
<text x="425.60" y="430.88" font-size="12.0" font-weight="bold" text-anchor="end" fill="#000" >4</text>
<line x1="427.30" y1="395.90" x2="433.70" y2="395.90" stroke="#111" stroke-width="1.6"/>
<text x="425.60" y="400.20" font-size="12.0" font-weight="bold" text-anchor="end" fill="#000" >5</text>
<line x1="463.60" y1="549.30" x2="463.60" y2="554.50" stroke="#111" stroke-width="1.5"/>
<text x="463.60" y="567.90" font-size="10.8" font-weight="bold" text-anchor="middle" fill="#000" font-style="italic" >Rac1</text>
<line x1="526.80" y1="549.30" x2="526.80" y2="554.50" stroke="#111" stroke-width="1.5"/>
<text x="526.80" y="567.90" font-size="10.8" font-weight="bold" text-anchor="middle" fill="#000" font-style="italic" >Jnk1</text>
<line x1="590.00" y1="549.30" x2="590.00" y2="554.50" stroke="#111" stroke-width="1.5"/>
<text x="590.00" y="567.90" font-size="10.8" font-weight="bold" text-anchor="middle" fill="#000" font-style="italic" >Jun</text>
<line x1="653.40" y1="549.30" x2="653.40" y2="554.50" stroke="#111" stroke-width="1.5"/>
<text x="653.40" y="567.90" font-size="10.8" font-weight="bold" text-anchor="middle" fill="#000" font-style="italic" >Fos</text>
<text transform="translate(412.0,475.60) rotate(-90)" font-size="10.7" font-weight="bold" text-anchor="middle">Relative mRNA expression</text>
<rect x="439.6" y="402.30" width="16.00" height="3.2" fill="#948fab"/>
<text x="465.70" y="406.90" font-size="8.3" font-weight="normal" text-anchor="start" fill="#9d99b9" >Control</text>
<rect x="501.8" y="402.30" width="16.20" height="3.2" fill="#df8a74"/>
<text x="527.50" y="406.90" font-size="8.3" font-weight="normal" text-anchor="start" fill="#e2907b" >Matrix</text>
<rect x="559.7" y="402.30" width="16.40" height="3.2" fill="#8db898"/>
<text x="585.50" y="406.90" font-size="8.3" font-weight="normal" text-anchor="start" fill="#93c29e" >ASFH-L</text>
<rect x="625.2" y="402.30" width="16.40" height="3.2" fill="#91c2f4"/>
<text x="651.30" y="406.90" font-size="8.3" font-weight="normal" text-anchor="start" fill="#9ccbf6" >ASFH-H</text>
<text x="381.4" y="589.90" font-size="20" font-weight="bold">G</text>
<text x="558.30" y="577.60" font-size="13.0" font-weight="normal" text-anchor="middle" fill="#000" >7 day</text>
<rect x="437.70" y="712.33" width="9.0" height="25.67" fill="#948fab"/>
<line x1="442.20" y1="712.33" x2="442.20" y2="709.51" stroke="#948fab" stroke-width="1"/>
<line x1="439.60" y1="709.51" x2="444.80" y2="709.51" stroke="#948fab" stroke-width="1"/>
<rect x="451.40" y="707.46" width="9.0" height="30.54" fill="#df8a74"/>
<line x1="455.90" y1="707.46" x2="455.90" y2="696.16" stroke="#df8a74" stroke-width="1"/>
<line x1="453.30" y1="696.16" x2="458.50" y2="696.16" stroke="#df8a74" stroke-width="1"/>
<rect x="465.00" y="669.98" width="9.0" height="68.02" fill="#8db898"/>
<line x1="469.50" y1="669.98" x2="469.50" y2="662.54" stroke="#8db898" stroke-width="1"/>
<line x1="466.90" y1="662.54" x2="472.10" y2="662.54" stroke="#8db898" stroke-width="1"/>
<rect x="478.70" y="654.07" width="9.0" height="83.93" fill="#91c2f4"/>
<line x1="483.20" y1="654.07" x2="483.20" y2="643.55" stroke="#91c2f4" stroke-width="1"/>
<line x1="480.60" y1="643.55" x2="485.80" y2="643.55" stroke="#91c2f4" stroke-width="1"/>
<rect x="500.90" y="712.33" width="9.0" height="25.67" fill="#948fab"/>
<line x1="505.40" y1="712.33" x2="505.40" y2="711.56" stroke="#948fab" stroke-width="1"/>
<line x1="502.80" y1="711.56" x2="508.00" y2="711.56" stroke="#948fab" stroke-width="1"/>
<rect x="514.60" y="707.71" width="9.0" height="30.29" fill="#df8a74"/>
<line x1="519.10" y1="707.71" x2="519.10" y2="697.19" stroke="#df8a74" stroke-width="1"/>
<line x1="516.50" y1="697.19" x2="521.70" y2="697.19" stroke="#df8a74" stroke-width="1"/>
<rect x="528.20" y="693.85" width="9.0" height="44.15" fill="#8db898"/>
<line x1="532.70" y1="693.85" x2="532.70" y2="689.23" stroke="#8db898" stroke-width="1"/>
<line x1="530.10" y1="689.23" x2="535.30" y2="689.23" stroke="#8db898" stroke-width="1"/>
<rect x="541.90" y="691.80" width="9.0" height="46.20" fill="#91c2f4"/>
<line x1="546.40" y1="691.80" x2="546.40" y2="685.38" stroke="#91c2f4" stroke-width="1"/>
<line x1="543.80" y1="685.38" x2="549.00" y2="685.38" stroke="#91c2f4" stroke-width="1"/>
<rect x="564.10" y="712.33" width="9.0" height="25.67" fill="#948fab"/>
<line x1="568.60" y1="712.33" x2="568.60" y2="710.54" stroke="#948fab" stroke-width="1"/>
<line x1="566.00" y1="710.54" x2="571.20" y2="710.54" stroke="#948fab" stroke-width="1"/>
<rect x="577.80" y="700.53" width="9.0" height="37.47" fill="#df8a74"/>
<line x1="582.30" y1="700.53" x2="582.30" y2="699.24" stroke="#df8a74" stroke-width="1"/>
<line x1="579.70" y1="699.24" x2="584.90" y2="699.24" stroke="#df8a74" stroke-width="1"/>
<rect x="591.40" y="693.08" width="9.0" height="44.92" fill="#8db898"/>
<line x1="595.90" y1="693.08" x2="595.90" y2="690.00" stroke="#8db898" stroke-width="1"/>
<line x1="593.30" y1="690.00" x2="598.50" y2="690.00" stroke="#8db898" stroke-width="1"/>
<rect x="605.10" y="692.57" width="9.0" height="45.43" fill="#91c2f4"/>
<line x1="609.60" y1="692.57" x2="609.60" y2="685.38" stroke="#91c2f4" stroke-width="1"/>
<line x1="607.00" y1="685.38" x2="612.20" y2="685.38" stroke="#91c2f4" stroke-width="1"/>
<rect x="627.50" y="712.33" width="9.0" height="25.67" fill="#948fab"/>
<line x1="632.00" y1="712.33" x2="632.00" y2="708.48" stroke="#948fab" stroke-width="1"/>
<line x1="629.40" y1="708.48" x2="634.60" y2="708.48" stroke="#948fab" stroke-width="1"/>
<rect x="641.20" y="710.79" width="9.0" height="27.21" fill="#df8a74"/>
<line x1="645.70" y1="710.79" x2="645.70" y2="708.48" stroke="#df8a74" stroke-width="1"/>
<line x1="643.10" y1="708.48" x2="648.30" y2="708.48" stroke="#df8a74" stroke-width="1"/>
<rect x="654.80" y="702.32" width="9.0" height="35.68" fill="#8db898"/>
<line x1="659.30" y1="702.32" x2="659.30" y2="701.30" stroke="#8db898" stroke-width="1"/>
<line x1="656.70" y1="701.30" x2="661.90" y2="701.30" stroke="#8db898" stroke-width="1"/>
<rect x="668.50" y="702.07" width="9.0" height="35.93" fill="#91c2f4"/>
<line x1="673.00" y1="702.07" x2="673.00" y2="697.19" stroke="#91c2f4" stroke-width="1"/>
<line x1="670.40" y1="697.19" x2="675.60" y2="697.19" stroke="#91c2f4" stroke-width="1"/>
<path d="M442.50,616.10V613.50H483.50V616.10" fill="none" stroke="#3a3a3a" stroke-width="0.95"/>
<text x="462.70" y="615.80" font-size="10.0" font-weight="normal" text-anchor="middle" fill="#222" >***</text>
<path d="M442.50,628.10V625.50H469.50V628.10" fill="none" stroke="#3a3a3a" stroke-width="0.95"/>
<text x="455.85" y="627.70" font-size="10.0" font-weight="normal" text-anchor="middle" fill="#222" >**</text>
<path d="M455.50,640.10V637.50H483.50V640.10" fill="none" stroke="#3a3a3a" stroke-width="0.95"/>
<text x="469.55" y="636.10" font-size="6.4" font-weight="normal" text-anchor="middle" fill="#333" >###</text>
<path d="M455.50,659.10V656.50H469.50V659.10" fill="none" stroke="#3a3a3a" stroke-width="0.95"/>
<text x="462.70" y="655.10" font-size="6.4" font-weight="normal" text-anchor="middle" fill="#333" >##</text>
<path d="M505.50,647.10V644.50H546.50V647.10" fill="none" stroke="#3a3a3a" stroke-width="0.95"/>
<text x="525.90" y="647.10" font-size="10.0" font-weight="normal" text-anchor="middle" fill="#222" >*</text>
<path d="M505.50,661.10V658.50H532.50V661.10" fill="none" stroke="#3a3a3a" stroke-width="0.95"/>
<text x="519.05" y="660.40" font-size="10.0" font-weight="normal" text-anchor="middle" fill="#222" >*</text>
<path d="M519.50,673.10V670.50H546.50V673.10" fill="none" stroke="#3a3a3a" stroke-width="0.95"/>
<text x="532.75" y="669.90" font-size="6.4" font-weight="normal" text-anchor="middle" fill="#333" >#</text>
<path d="M519.50,686.10V683.50H532.50V686.10" fill="none" stroke="#3a3a3a" stroke-width="0.95"/>
<text x="525.90" y="682.50" font-size="6.8" font-weight="normal" text-anchor="middle" fill="#333" >ns</text>
<path d="M568.50,633.10V630.50H609.50V633.10" fill="none" stroke="#3a3a3a" stroke-width="0.95"/>
<text x="589.10" y="632.50" font-size="10.0" font-weight="normal" text-anchor="middle" fill="#222" >**</text>
<path d="M568.50,646.10V643.50H595.50V646.10" fill="none" stroke="#3a3a3a" stroke-width="0.95"/>
<text x="582.25" y="645.80" font-size="10.0" font-weight="normal" text-anchor="middle" fill="#222" >**</text>
<path d="M568.50,659.10V656.50H582.50V659.10" fill="none" stroke="#3a3a3a" stroke-width="0.95"/>
<text x="575.45" y="659.00" font-size="10.0" font-weight="normal" text-anchor="middle" fill="#222" >*</text>
<path d="M582.50,673.10V670.50H609.50V673.10" fill="none" stroke="#3a3a3a" stroke-width="0.95"/>
<text x="595.95" y="669.30" font-size="6.4" font-weight="normal" text-anchor="middle" fill="#333" >##</text>
<path d="M582.50,686.10V683.50H595.50V686.10" fill="none" stroke="#3a3a3a" stroke-width="0.95"/>
<text x="589.10" y="682.50" font-size="6.8" font-weight="normal" text-anchor="middle" fill="#333" >ns</text>
<path d="M632.50,662.10V659.50H673.50V662.10" fill="none" stroke="#3a3a3a" stroke-width="0.95"/>
<text x="652.50" y="661.50" font-size="10.0" font-weight="normal" text-anchor="middle" fill="#222" >*</text>
<path d="M632.50,671.10V668.50H659.50V671.10" fill="none" stroke="#3a3a3a" stroke-width="0.95"/>
<text x="645.65" y="671.00" font-size="10.0" font-weight="normal" text-anchor="middle" fill="#222" >*</text>
<path d="M645.50,685.10V682.50H673.50V685.10" fill="none" stroke="#3a3a3a" stroke-width="0.95"/>
<text x="659.35" y="681.30" font-size="6.4" font-weight="normal" text-anchor="middle" fill="#333" >#</text>
<path d="M645.50,697.10V694.50H659.50V697.10" fill="none" stroke="#3a3a3a" stroke-width="0.95"/>
<text x="652.50" y="693.60" font-size="6.4" font-weight="normal" text-anchor="middle" fill="#333" >#</text>
<path d="M433.70,584.00H683.30V738.00H433.70Z" fill="none" stroke="#111" stroke-width="1.6"/>
<line x1="427.30" y1="738.00" x2="433.70" y2="738.00" stroke="#111" stroke-width="1.6"/>
<text x="425.60" y="742.30" font-size="12.0" font-weight="bold" text-anchor="end" fill="#000" >0</text>
<line x1="427.30" y1="712.33" x2="433.70" y2="712.33" stroke="#111" stroke-width="1.6"/>
<text x="425.60" y="716.63" font-size="12.0" font-weight="bold" text-anchor="end" fill="#000" >1</text>
<line x1="427.30" y1="686.67" x2="433.70" y2="686.67" stroke="#111" stroke-width="1.6"/>
<text x="425.60" y="690.97" font-size="12.0" font-weight="bold" text-anchor="end" fill="#000" >2</text>
<line x1="427.30" y1="661.00" x2="433.70" y2="661.00" stroke="#111" stroke-width="1.6"/>
<text x="425.60" y="665.30" font-size="12.0" font-weight="bold" text-anchor="end" fill="#000" >3</text>
<line x1="427.30" y1="635.33" x2="433.70" y2="635.33" stroke="#111" stroke-width="1.6"/>
<text x="425.60" y="639.63" font-size="12.0" font-weight="bold" text-anchor="end" fill="#000" >4</text>
<line x1="427.30" y1="609.67" x2="433.70" y2="609.67" stroke="#111" stroke-width="1.6"/>
<text x="425.60" y="613.97" font-size="12.0" font-weight="bold" text-anchor="end" fill="#000" >5</text>
<line x1="427.30" y1="584.00" x2="433.70" y2="584.00" stroke="#111" stroke-width="1.6"/>
<text x="425.60" y="588.30" font-size="12.0" font-weight="bold" text-anchor="end" fill="#000" >6</text>
<line x1="462.70" y1="738.00" x2="462.70" y2="743.20" stroke="#111" stroke-width="1.5"/>
<text x="462.70" y="756.60" font-size="10.8" font-weight="bold" text-anchor="middle" fill="#000" >Rac1</text>
<line x1="525.90" y1="738.00" x2="525.90" y2="743.20" stroke="#111" stroke-width="1.5"/>
<text x="525.90" y="756.60" font-size="10.8" font-weight="bold" text-anchor="middle" fill="#000" >JNK1</text>
<line x1="589.10" y1="738.00" x2="589.10" y2="743.20" stroke="#111" stroke-width="1.5"/>
<text x="589.10" y="756.60" font-size="10.8" font-weight="bold" text-anchor="middle" fill="#000" >Jun</text>
<line x1="652.50" y1="738.00" x2="652.50" y2="743.20" stroke="#111" stroke-width="1.5"/>
<text x="652.50" y="756.60" font-size="10.8" font-weight="bold" text-anchor="middle" fill="#000" >Fos</text>
<text transform="translate(412.0,666.60) rotate(-90)" font-size="10.7" font-weight="bold" text-anchor="middle">Relative protein expression</text>
<rect x="439.6" y="590.40" width="16.00" height="3.2" fill="#948fab"/>
<text x="465.70" y="595.00" font-size="8.3" font-weight="normal" text-anchor="start" fill="#9d99b9" >Control</text>
<rect x="501.8" y="590.40" width="16.20" height="3.2" fill="#df8a74"/>
<text x="527.50" y="595.00" font-size="8.3" font-weight="normal" text-anchor="start" fill="#e2907b" >Matrix</text>
<rect x="559.7" y="590.40" width="16.40" height="3.2" fill="#8db898"/>
<text x="585.50" y="595.00" font-size="8.3" font-weight="normal" text-anchor="start" fill="#93c29e" >ASFH-L</text>
<rect x="625.2" y="590.40" width="16.40" height="3.2" fill="#91c2f4"/>
<text x="651.30" y="595.00" font-size="8.3" font-weight="normal" text-anchor="start" fill="#9ccbf6" >ASFH-H</text>
<text x="0.6" y="374.9" font-size="23.5" font-weight="bold">D</text>
<path d="M65.00,391.60V532.60H365.40" fill="none" stroke="#111" stroke-width="1.6"/>
<line x1="60.00" y1="391.60" x2="65.00" y2="391.60" stroke="#111" stroke-width="1.5"/>
<text x="57.70" y="395.60" font-size="11.0" font-weight="bold" text-anchor="end" fill="#000" >80</text>
<line x1="60.00" y1="419.80" x2="65.00" y2="419.80" stroke="#111" stroke-width="1.5"/>
<text x="57.70" y="423.80" font-size="11.0" font-weight="bold" text-anchor="end" fill="#000" >60</text>
<line x1="60.00" y1="448.00" x2="65.00" y2="448.00" stroke="#111" stroke-width="1.5"/>
<text x="57.70" y="452.00" font-size="11.0" font-weight="bold" text-anchor="end" fill="#000" >40</text>
<line x1="60.00" y1="476.20" x2="65.00" y2="476.20" stroke="#111" stroke-width="1.5"/>
<text x="57.70" y="480.20" font-size="11.0" font-weight="bold" text-anchor="end" fill="#000" >20</text>
<line x1="60.00" y1="504.40" x2="65.00" y2="504.40" stroke="#111" stroke-width="1.5"/>
<text x="57.70" y="508.40" font-size="11.0" font-weight="bold" text-anchor="end" fill="#000" >0</text>
<line x1="60.00" y1="532.60" x2="65.00" y2="532.60" stroke="#111" stroke-width="1.5"/>
<text x="57.70" y="536.60" font-size="11.0" font-weight="bold" text-anchor="end" fill="#000" >-20</text>
<line x1="65.00" y1="532.60" x2="65.00" y2="537.60" stroke="#111" stroke-width="1.5"/>
<text x="65.00" y="551.10" font-size="11.0" font-weight="bold" text-anchor="middle" fill="#000" >-50</text>
<line x1="140.10" y1="532.60" x2="140.10" y2="537.60" stroke="#111" stroke-width="1.5"/>
<text x="140.10" y="551.10" font-size="11.0" font-weight="bold" text-anchor="middle" fill="#000" >0</text>
<line x1="215.20" y1="532.60" x2="215.20" y2="537.60" stroke="#111" stroke-width="1.5"/>
<text x="215.20" y="551.10" font-size="11.0" font-weight="bold" text-anchor="middle" fill="#000" >50</text>
<line x1="290.30" y1="532.60" x2="290.30" y2="537.60" stroke="#111" stroke-width="1.5"/>
<text x="290.30" y="551.10" font-size="11.0" font-weight="bold" text-anchor="middle" fill="#000" >100</text>
<line x1="365.40" y1="532.60" x2="365.40" y2="537.60" stroke="#111" stroke-width="1.5"/>
<text x="365.40" y="551.10" font-size="11.0" font-weight="bold" text-anchor="middle" fill="#000" >150</text>
<text x="215.20" y="567.30" font-size="12.0" font-weight="bold" text-anchor="middle" fill="#000" >Time(s)</text>
<text transform="translate(37.8,461.80) rotate(-90)" font-size="11.8" font-weight="bold" text-anchor="middle">RU</text>
<path d="M135.59,504.40 L138.30,504.40 L139.20,511.51 L140.10,507.24 L140.85,499.46 L141.60,494.86 L142.35,490.56 L143.10,486.54 L143.85,482.79 L144.61,479.29 L145.36,476.01 L146.11,472.95 L146.86,470.08 L147.61,467.39 L148.36,464.87 L149.11,462.51 L149.86,460.29 L150.61,458.21 L151.36,456.25 L152.12,454.41 L152.87,452.68 L153.62,451.04 L154.37,449.50 L155.12,448.05 L155.87,446.67 L156.62,445.37 L157.37,444.14 L158.12,442.97 L158.88,441.86 L159.63,440.80 L160.38,439.80 L161.13,438.84 L161.88,437.92 L162.63,437.05 L163.38,436.21 L164.13,435.41 L164.88,434.64 L165.63,433.91 L166.38,433.20 L167.14,432.51 L167.89,431.85 L168.64,431.21 L169.39,430.59 L170.14,429.99 L170.89,429.41 L171.64,428.85 L172.39,428.30 L173.14,427.77 L173.89,427.24 L174.65,426.73 L175.40,426.24 L176.15,425.75 L176.90,425.27 L177.65,424.80 L178.40,424.34 L179.15,423.89 L179.90,423.44 L180.65,423.01 L181.40,422.57 L182.16,422.15 L182.91,421.72 L183.66,421.31 L184.41,420.90 L185.16,420.49 L185.91,420.09 L186.66,419.69 L187.41,419.29 L188.16,418.90 L188.91,418.51 L189.67,418.12 L190.42,417.73 L191.17,417.35 L191.92,416.97 L192.67,416.59 L193.42,416.21 L194.17,415.84 L194.92,415.47 L195.67,415.09 L196.42,414.72 L197.18,414.36 L197.93,413.99 L198.68,413.62 L199.43,413.25 L200.18,412.89 L200.93,412.53 L201.68,412.16 L202.43,411.80 L203.18,411.44 L203.94,411.08 L204.69,410.72 L205.44,410.36 L206.19,410.00 L206.94,409.64 L207.69,409.28 L208.44,408.92 L209.19,408.57 L209.94,408.21 L210.69,407.85 L211.44,407.50 L212.20,407.14 L212.95,406.78 L213.70,406.43 L214.45,406.07 L215.20,405.72 L215.95,405.36 L216.70,405.01 L217.45,404.65 L218.20,404.30 L218.95,403.94 L219.71,403.59 L220.46,403.23 L221.21,402.88 L225.71,402.58 L229.17,403.08 L230.22,404.91 L234.43,474.93 L235.93,475.35 L365.40,479.87" fill="none" stroke="#111111" stroke-width="0.95" stroke-linejoin="round"/>
<path d="M135.59,504.40 L138.30,504.40 L139.20,509.93 L140.10,506.61 L140.85,500.56 L141.60,496.98 L142.35,493.63 L143.10,490.51 L143.85,487.59 L144.61,484.87 L145.36,482.32 L146.11,479.94 L146.86,477.70 L147.61,475.61 L148.36,473.66 L149.11,471.82 L149.86,470.09 L150.61,468.47 L151.36,466.95 L152.12,465.52 L152.87,464.17 L153.62,462.90 L154.37,461.70 L155.12,460.57 L155.87,459.50 L156.62,458.49 L157.37,457.53 L158.12,456.62 L158.88,455.75 L159.63,454.93 L160.38,454.15 L161.13,453.41 L161.88,452.70 L162.63,452.02 L163.38,451.37 L164.13,450.74 L164.88,450.15 L165.63,449.57 L166.38,449.02 L167.14,448.49 L167.89,447.97 L168.64,447.48 L169.39,446.99 L170.14,446.53 L170.89,446.08 L171.64,445.64 L172.39,445.21 L173.14,444.80 L173.89,444.39 L174.65,443.99 L175.40,443.61 L176.15,443.23 L176.90,442.86 L177.65,442.49 L178.40,442.13 L179.15,441.78 L179.90,441.43 L180.65,441.09 L181.40,440.76 L182.16,440.42 L182.91,440.10 L183.66,439.77 L184.41,439.45 L185.16,439.14 L185.91,438.82 L186.66,438.51 L187.41,438.20 L188.16,437.90 L188.91,437.59 L189.67,437.29 L190.42,436.99 L191.17,436.69 L191.92,436.40 L192.67,436.10 L193.42,435.81 L194.17,435.52 L194.92,435.23 L195.67,434.94 L196.42,434.65 L197.18,434.37 L197.93,434.08 L198.68,433.79 L199.43,433.51 L200.18,433.23 L200.93,432.94 L201.68,432.66 L202.43,432.38 L203.18,432.10 L203.94,431.82 L204.69,431.54 L205.44,431.26 L206.19,430.98 L206.94,430.70 L207.69,430.42 L208.44,430.14 L209.19,429.86 L209.94,429.58 L210.69,429.31 L211.44,429.03 L212.20,428.75 L212.95,428.48 L213.70,428.20 L214.45,427.92 L215.20,427.65 L215.95,427.37 L216.70,427.09 L217.45,426.82 L218.20,426.54 L218.95,426.27 L219.71,425.99 L220.46,425.72 L221.21,425.44 L225.71,425.20 L229.17,425.60 L230.22,427.02 L234.43,480.85 L235.93,481.28 L365.40,484.94" fill="none" stroke="#ff8c1a" stroke-width="0.95" stroke-linejoin="round"/>
<path d="M135.59,504.40 L138.30,504.40 L139.20,508.25 L140.10,505.94 L140.85,501.73 L141.60,499.23 L142.35,496.90 L143.10,494.73 L143.85,492.70 L144.61,490.80 L145.36,489.02 L146.11,487.36 L146.86,485.81 L147.61,484.35 L148.36,482.99 L149.11,481.71 L149.86,480.51 L150.61,479.38 L151.36,478.32 L152.12,477.32 L152.87,476.38 L153.62,475.50 L154.37,474.66 L155.12,473.88 L155.87,473.13 L156.62,472.43 L157.37,471.76 L158.12,471.12 L158.88,470.52 L159.63,469.95 L160.38,469.41 L161.13,468.89 L161.88,468.39 L162.63,467.92 L163.38,467.47 L164.13,467.03 L164.88,466.62 L165.63,466.22 L166.38,465.83 L167.14,465.46 L167.89,465.10 L168.64,464.76 L169.39,464.42 L170.14,464.10 L170.89,463.78 L171.64,463.48 L172.39,463.18 L173.14,462.89 L173.89,462.61 L174.65,462.33 L175.40,462.06 L176.15,461.80 L176.90,461.54 L177.65,461.28 L178.40,461.04 L179.15,460.79 L179.90,460.55 L180.65,460.31 L181.40,460.08 L182.16,459.85 L182.91,459.62 L183.66,459.39 L184.41,459.17 L185.16,458.95 L185.91,458.73 L186.66,458.51 L187.41,458.30 L188.16,458.09 L188.91,457.87 L189.67,457.66 L190.42,457.46 L191.17,457.25 L191.92,457.04 L192.67,456.84 L193.42,456.63 L194.17,456.43 L194.92,456.23 L195.67,456.03 L196.42,455.83 L197.18,455.63 L197.93,455.43 L198.68,455.23 L199.43,455.03 L200.18,454.83 L200.93,454.63 L201.68,454.44 L202.43,454.24 L203.18,454.05 L203.94,453.85 L204.69,453.66 L205.44,453.46 L206.19,453.27 L206.94,453.07 L207.69,452.88 L208.44,452.68 L209.19,452.49 L209.94,452.30 L210.69,452.10 L211.44,451.91 L212.20,451.72 L212.95,451.52 L213.70,451.33 L214.45,451.14 L215.20,450.95 L215.95,450.75 L216.70,450.56 L217.45,450.37 L218.20,450.18 L218.95,449.99 L219.71,449.79 L220.46,449.60 L221.21,449.41 L225.71,449.25 L229.17,449.52 L230.22,450.51 L234.43,487.06 L235.93,487.48 L365.40,489.74" fill="none" stroke="#cc33ff" stroke-width="0.95" stroke-linejoin="round"/>
<path d="M135.59,504.40 L138.30,504.40 L139.20,506.84 L140.10,505.38 L140.85,502.71 L141.60,501.13 L142.35,499.65 L143.10,498.27 L143.85,496.99 L144.61,495.79 L145.36,494.66 L146.11,493.61 L146.86,492.63 L147.61,491.70 L148.36,490.84 L149.11,490.03 L149.86,489.27 L150.61,488.55 L151.36,487.88 L152.12,487.25 L152.87,486.66 L153.62,486.10 L154.37,485.57 L155.12,485.07 L155.87,484.60 L156.62,484.15 L157.37,483.73 L158.12,483.32 L158.88,482.94 L159.63,482.58 L160.38,482.24 L161.13,481.91 L161.88,481.59 L162.63,481.30 L163.38,481.01 L164.13,480.73 L164.88,480.47 L165.63,480.22 L166.38,479.97 L167.14,479.74 L167.89,479.51 L168.64,479.29 L169.39,479.08 L170.14,478.87 L170.89,478.68 L171.64,478.48 L172.39,478.29 L173.14,478.11 L173.89,477.93 L174.65,477.76 L175.40,477.59 L176.15,477.42 L176.90,477.25 L177.65,477.09 L178.40,476.94 L179.15,476.78 L179.90,476.63 L180.65,476.48 L181.40,476.33 L182.16,476.18 L182.91,476.04 L183.66,475.89 L184.41,475.75 L185.16,475.61 L185.91,475.48 L186.66,475.34 L187.41,475.20 L188.16,475.07 L188.91,474.93 L189.67,474.80 L190.42,474.67 L191.17,474.54 L191.92,474.41 L192.67,474.28 L193.42,474.15 L194.17,474.02 L194.92,473.89 L195.67,473.76 L196.42,473.64 L197.18,473.51 L197.93,473.38 L198.68,473.26 L199.43,473.13 L200.18,473.01 L200.93,472.88 L201.68,472.76 L202.43,472.63 L203.18,472.51 L203.94,472.39 L204.69,472.26 L205.44,472.14 L206.19,472.02 L206.94,471.89 L207.69,471.77 L208.44,471.65 L209.19,471.52 L209.94,471.40 L210.69,471.28 L211.44,471.16 L212.20,471.03 L212.95,470.91 L213.70,470.79 L214.45,470.67 L215.20,470.55 L215.95,470.42 L216.70,470.30 L217.45,470.18 L218.20,470.06 L218.95,469.94 L219.71,469.82 L220.46,469.69 L221.21,469.57 L225.71,469.47 L229.17,469.64 L230.22,470.27 L234.43,492.70 L235.93,493.12 L365.40,494.67" fill="none" stroke="#22dd22" stroke-width="0.95" stroke-linejoin="round"/>
<path d="M135.59,504.40 L138.30,504.40 L139.20,505.81 L140.10,504.96 L140.85,503.42 L141.60,502.50 L142.35,501.65 L143.10,500.85 L143.85,500.11 L144.61,499.41 L145.36,498.76 L146.11,498.15 L146.86,497.58 L147.61,497.05 L148.36,496.55 L149.11,496.08 L149.86,495.64 L150.61,495.23 L151.36,494.84 L152.12,494.47 L152.87,494.13 L153.62,493.80 L154.37,493.50 L155.12,493.21 L155.87,492.93 L156.62,492.68 L157.37,492.43 L158.12,492.20 L158.88,491.98 L159.63,491.77 L160.38,491.57 L161.13,491.38 L161.88,491.20 L162.63,491.02 L163.38,490.86 L164.13,490.70 L164.88,490.55 L165.63,490.40 L166.38,490.26 L167.14,490.12 L167.89,489.99 L168.64,489.86 L169.39,489.74 L170.14,489.62 L170.89,489.51 L171.64,489.39 L172.39,489.29 L173.14,489.18 L173.89,489.08 L174.65,488.97 L175.40,488.88 L176.15,488.78 L176.90,488.68 L177.65,488.59 L178.40,488.50 L179.15,488.41 L179.90,488.32 L180.65,488.23 L181.40,488.15 L182.16,488.06 L182.91,487.98 L183.66,487.90 L184.41,487.82 L185.16,487.73 L185.91,487.65 L186.66,487.57 L187.41,487.50 L188.16,487.42 L188.91,487.34 L189.67,487.26 L190.42,487.19 L191.17,487.11 L191.92,487.04 L192.67,486.96 L193.42,486.89 L194.17,486.81 L194.92,486.74 L195.67,486.66 L196.42,486.59 L197.18,486.52 L197.93,486.44 L198.68,486.37 L199.43,486.30 L200.18,486.23 L200.93,486.15 L201.68,486.08 L202.43,486.01 L203.18,485.94 L203.94,485.87 L204.69,485.79 L205.44,485.72 L206.19,485.65 L206.94,485.58 L207.69,485.51 L208.44,485.44 L209.19,485.37 L209.94,485.30 L210.69,485.22 L211.44,485.15 L212.20,485.08 L212.95,485.01 L213.70,484.94 L214.45,484.87 L215.20,484.80 L215.95,484.73 L216.70,484.66 L217.45,484.59 L218.20,484.52 L218.95,484.45 L219.71,484.38 L220.46,484.31 L221.21,484.24 L225.71,484.18 L229.17,484.28 L230.22,484.64 L234.43,497.77 L235.93,498.20 L365.40,499.61" fill="none" stroke="#ff2020" stroke-width="0.95" stroke-linejoin="round"/>
<path d="M65.00,504.40 L138.30,504.40 L139.20,505.16 L140.10,504.70 L140.85,503.87 L141.60,503.38 L142.35,502.92 L143.10,502.49 L143.85,502.09 L144.61,501.71 L145.36,501.36 L146.11,501.04 L146.86,500.73 L147.61,500.44 L148.36,500.17 L149.11,499.92 L149.86,499.68 L150.61,499.46 L151.36,499.25 L152.12,499.05 L152.87,498.87 L153.62,498.69 L154.37,498.53 L155.12,498.37 L155.87,498.23 L156.62,498.09 L157.37,497.96 L158.12,497.83 L158.88,497.71 L159.63,497.60 L160.38,497.49 L161.13,497.39 L161.88,497.29 L162.63,497.20 L163.38,497.11 L164.13,497.02 L164.88,496.94 L165.63,496.86 L166.38,496.79 L167.14,496.71 L167.89,496.64 L168.64,496.57 L169.39,496.51 L170.14,496.44 L170.89,496.38 L171.64,496.32 L172.39,496.26 L173.14,496.20 L173.89,496.15 L174.65,496.09 L175.40,496.04 L176.15,495.99 L176.90,495.94 L177.65,495.89 L178.40,495.84 L179.15,495.79 L179.90,495.74 L180.65,495.70 L181.40,495.65 L182.16,495.60 L182.91,495.56 L183.66,495.51 L184.41,495.47 L185.16,495.43 L185.91,495.38 L186.66,495.34 L187.41,495.30 L188.16,495.26 L188.91,495.21 L189.67,495.17 L190.42,495.13 L191.17,495.09 L191.92,495.05 L192.67,495.01 L193.42,494.97 L194.17,494.93 L194.92,494.89 L195.67,494.85 L196.42,494.81 L197.18,494.77 L197.93,494.73 L198.68,494.69 L199.43,494.65 L200.18,494.61 L200.93,494.57 L201.68,494.54 L202.43,494.50 L203.18,494.46 L203.94,494.42 L204.69,494.38 L205.44,494.34 L206.19,494.30 L206.94,494.27 L207.69,494.23 L208.44,494.19 L209.19,494.15 L209.94,494.11 L210.69,494.07 L211.44,494.04 L212.20,494.00 L212.95,493.96 L213.70,493.92 L214.45,493.88 L215.20,493.85 L215.95,493.81 L216.70,493.77 L217.45,493.73 L218.20,493.69 L218.95,493.66 L219.71,493.62 L220.46,493.58 L221.21,493.54 L225.71,493.51 L229.17,493.56 L230.22,493.76 L234.43,502.71 L235.93,503.13 L365.40,503.69" fill="none" stroke="#1a1aff" stroke-width="0.95" stroke-linejoin="round"/>
<line x1="66.00" y1="504.40" x2="365.40" y2="504.40" stroke="#111" stroke-width="1.2" stroke-dasharray="1.2,3.5"/>
<text x="213.80" y="362.50" font-size="9.7" font-weight="normal" text-anchor="middle" fill="#000" >Andro binds to Rac1</text>
<text x="215.00" y="373.70" font-size="9.7" font-weight="normal" text-anchor="middle" fill="#000" >KD=3.82E-6 M</text>
<line x1="282.6" y1="366.80" x2="297.2" y2="366.80" stroke="#1a1aff" stroke-width="1"/>
<text x="305.30" y="370.30" font-size="9.8" font-weight="normal" text-anchor="start" fill="#111" >0.3125 µM</text>
<line x1="282.6" y1="385.90" x2="297.2" y2="385.90" stroke="#ff2020" stroke-width="1"/>
<text x="305.30" y="389.40" font-size="9.8" font-weight="normal" text-anchor="start" fill="#111" >0.625 µM</text>
<line x1="282.6" y1="405.00" x2="297.2" y2="405.00" stroke="#22dd22" stroke-width="1"/>
<text x="305.30" y="408.50" font-size="9.8" font-weight="normal" text-anchor="start" fill="#111" >1.25 µM</text>
<line x1="282.6" y1="424.10" x2="297.2" y2="424.10" stroke="#cc33ff" stroke-width="1"/>
<text x="305.30" y="427.60" font-size="9.8" font-weight="normal" text-anchor="start" fill="#111" >2.5 µM</text>
<line x1="282.6" y1="443.20" x2="297.2" y2="443.20" stroke="#ff8c1a" stroke-width="1"/>
<text x="305.30" y="446.70" font-size="9.8" font-weight="normal" text-anchor="start" fill="#111" >5 µM</text>
<line x1="282.6" y1="462.30" x2="297.2" y2="462.30" stroke="#111" stroke-width="1"/>
<text x="305.30" y="465.80" font-size="9.8" font-weight="normal" text-anchor="start" fill="#111" >10 µM</text>
<text x="395.8" y="780.0" font-size="19.5" font-weight="bold">H</text>
<defs><radialGradient id="ball" cx="0.38" cy="0.35" r="0.7"><stop offset="0" stop-color="#e6f8fc"/><stop offset="0.55" stop-color="#9ed8e8"/><stop offset="1" stop-color="#5db7d0"/></radialGradient><radialGradient id="egf" cx="0.38" cy="0.35" r="0.7"><stop offset="0" stop-color="#dff5fb"/><stop offset="0.5" stop-color="#7fcde6"/><stop offset="1" stop-color="#3aa2c8"/></radialGradient><marker id="ah" markerWidth="8" markerHeight="8" refX="6.2" refY="3.4" orient="auto" markerUnits="userSpaceOnUse"><path d="M6.4,3.4 L0.6,0.9 L0.1,1.9 L3.4,3.4 L0.1,4.9 L0.6,5.9 Z" fill="#26355f" stroke="#26355f" stroke-width="0.3" stroke-linejoin="round"/></marker></defs>
<path d="M497,762.3 H657.6 A12,12 0 0 1 669.6,774.3 V920.5 A13,13 0 0 1 656.6,933.5 H497" fill="none" stroke="#2e4870" stroke-width="4.2" stroke-dasharray="2.2,1.3"/>
<path d="M497,762.3 H657.6 A12,12 0 0 1 669.6,774.3 V920.5 A13,13 0 0 1 656.6,933.5 H497" fill="none" stroke="#86d2e2" stroke-width="2.6"/>
<path d="M476.6,762.60 L478.6,761.50 H483.3 M476.6,762.60 L478.6,763.70 H483.3 M492.2,762.60 L490.2,761.50 H485.5 M492.2,762.60 L490.2,763.70 H485.5" stroke="#4f7888" stroke-width="0.6" fill="none"/>
<circle cx="474.1" cy="762.60" r="2.65" fill="url(#ball)" stroke="#263f48" stroke-width="0.65"/>
<circle cx="494.7" cy="762.60" r="2.65" fill="url(#ball)" stroke="#263f48" stroke-width="0.65"/>
<path d="M476.6,768.15 L478.6,767.05 H483.3 M476.6,768.15 L478.6,769.25 H483.3 M492.2,768.15 L490.2,767.05 H485.5 M492.2,768.15 L490.2,769.25 H485.5" stroke="#4f7888" stroke-width="0.6" fill="none"/>
<circle cx="474.1" cy="768.15" r="2.65" fill="url(#ball)" stroke="#263f48" stroke-width="0.65"/>
<circle cx="494.7" cy="768.15" r="2.65" fill="url(#ball)" stroke="#263f48" stroke-width="0.65"/>
<path d="M476.6,773.70 L478.6,772.60 H483.3 M476.6,773.70 L478.6,774.80 H483.3 M492.2,773.70 L490.2,772.60 H485.5 M492.2,773.70 L490.2,774.80 H485.5" stroke="#4f7888" stroke-width="0.6" fill="none"/>
<circle cx="474.1" cy="773.70" r="2.65" fill="url(#ball)" stroke="#263f48" stroke-width="0.65"/>
<circle cx="494.7" cy="773.70" r="2.65" fill="url(#ball)" stroke="#263f48" stroke-width="0.65"/>
<path d="M476.6,779.25 L478.6,778.15 H483.3 M476.6,779.25 L478.6,780.35 H483.3 M492.2,779.25 L490.2,778.15 H485.5 M492.2,779.25 L490.2,780.35 H485.5" stroke="#4f7888" stroke-width="0.6" fill="none"/>
<circle cx="474.1" cy="779.25" r="2.65" fill="url(#ball)" stroke="#263f48" stroke-width="0.65"/>
<circle cx="494.7" cy="779.25" r="2.65" fill="url(#ball)" stroke="#263f48" stroke-width="0.65"/>
<path d="M476.6,784.80 L478.6,783.70 H483.3 M476.6,784.80 L478.6,785.90 H483.3 M492.2,784.80 L490.2,783.70 H485.5 M492.2,784.80 L490.2,785.90 H485.5" stroke="#4f7888" stroke-width="0.6" fill="none"/>
<circle cx="474.1" cy="784.80" r="2.65" fill="url(#ball)" stroke="#263f48" stroke-width="0.65"/>
<circle cx="494.7" cy="784.80" r="2.65" fill="url(#ball)" stroke="#263f48" stroke-width="0.65"/>
<path d="M476.6,790.35 L478.6,789.25 H483.3 M476.6,790.35 L478.6,791.45 H483.3 M492.2,790.35 L490.2,789.25 H485.5 M492.2,790.35 L490.2,791.45 H485.5" stroke="#4f7888" stroke-width="0.6" fill="none"/>
<circle cx="474.1" cy="790.35" r="2.65" fill="url(#ball)" stroke="#263f48" stroke-width="0.65"/>
<circle cx="494.7" cy="790.35" r="2.65" fill="url(#ball)" stroke="#263f48" stroke-width="0.65"/>
<path d="M476.6,795.90 L478.6,794.80 H483.3 M476.6,795.90 L478.6,797.00 H483.3 M492.2,795.90 L490.2,794.80 H485.5 M492.2,795.90 L490.2,797.00 H485.5" stroke="#4f7888" stroke-width="0.6" fill="none"/>
<circle cx="474.1" cy="795.90" r="2.65" fill="url(#ball)" stroke="#263f48" stroke-width="0.65"/>
<circle cx="494.7" cy="795.90" r="2.65" fill="url(#ball)" stroke="#263f48" stroke-width="0.65"/>
<path d="M476.6,801.45 L478.6,800.35 H483.3 M476.6,801.45 L478.6,802.55 H483.3 M492.2,801.45 L490.2,800.35 H485.5 M492.2,801.45 L490.2,802.55 H485.5" stroke="#4f7888" stroke-width="0.6" fill="none"/>
<circle cx="474.1" cy="801.45" r="2.65" fill="url(#ball)" stroke="#263f48" stroke-width="0.65"/>
<circle cx="494.7" cy="801.45" r="2.65" fill="url(#ball)" stroke="#263f48" stroke-width="0.65"/>
<path d="M476.6,807.00 L478.6,805.90 H483.3 M476.6,807.00 L478.6,808.10 H483.3 M492.2,807.00 L490.2,805.90 H485.5 M492.2,807.00 L490.2,808.10 H485.5" stroke="#4f7888" stroke-width="0.6" fill="none"/>
<circle cx="474.1" cy="807.00" r="2.65" fill="url(#ball)" stroke="#263f48" stroke-width="0.65"/>
<circle cx="494.7" cy="807.00" r="2.65" fill="url(#ball)" stroke="#263f48" stroke-width="0.65"/>
<path d="M476.6,812.55 L478.6,811.45 H483.3 M476.6,812.55 L478.6,813.65 H483.3 M492.2,812.55 L490.2,811.45 H485.5 M492.2,812.55 L490.2,813.65 H485.5" stroke="#4f7888" stroke-width="0.6" fill="none"/>
<circle cx="474.1" cy="812.55" r="2.65" fill="url(#ball)" stroke="#263f48" stroke-width="0.65"/>
<circle cx="494.7" cy="812.55" r="2.65" fill="url(#ball)" stroke="#263f48" stroke-width="0.65"/>
<path d="M476.6,818.10 L478.6,817.00 H483.3 M476.6,818.10 L478.6,819.20 H483.3 M492.2,818.10 L490.2,817.00 H485.5 M492.2,818.10 L490.2,819.20 H485.5" stroke="#4f7888" stroke-width="0.6" fill="none"/>
<circle cx="474.1" cy="818.10" r="2.65" fill="url(#ball)" stroke="#263f48" stroke-width="0.65"/>
<circle cx="494.7" cy="818.10" r="2.65" fill="url(#ball)" stroke="#263f48" stroke-width="0.65"/>
<path d="M476.6,823.65 L478.6,822.55 H483.3 M476.6,823.65 L478.6,824.75 H483.3 M492.2,823.65 L490.2,822.55 H485.5 M492.2,823.65 L490.2,824.75 H485.5" stroke="#4f7888" stroke-width="0.6" fill="none"/>
<circle cx="474.1" cy="823.65" r="2.65" fill="url(#ball)" stroke="#263f48" stroke-width="0.65"/>
<circle cx="494.7" cy="823.65" r="2.65" fill="url(#ball)" stroke="#263f48" stroke-width="0.65"/>
<path d="M476.6,829.20 L478.6,828.10 H483.3 M476.6,829.20 L478.6,830.30 H483.3 M492.2,829.20 L490.2,828.10 H485.5 M492.2,829.20 L490.2,830.30 H485.5" stroke="#4f7888" stroke-width="0.6" fill="none"/>
<circle cx="474.1" cy="829.20" r="2.65" fill="url(#ball)" stroke="#263f48" stroke-width="0.65"/>
<circle cx="494.7" cy="829.20" r="2.65" fill="url(#ball)" stroke="#263f48" stroke-width="0.65"/>
<path d="M476.6,834.75 L478.6,833.65 H483.3 M476.6,834.75 L478.6,835.85 H483.3 M492.2,834.75 L490.2,833.65 H485.5 M492.2,834.75 L490.2,835.85 H485.5" stroke="#4f7888" stroke-width="0.6" fill="none"/>
<circle cx="474.1" cy="834.75" r="2.65" fill="url(#ball)" stroke="#263f48" stroke-width="0.65"/>
<circle cx="494.7" cy="834.75" r="2.65" fill="url(#ball)" stroke="#263f48" stroke-width="0.65"/>
<path d="M476.6,840.30 L478.6,839.20 H483.3 M476.6,840.30 L478.6,841.40 H483.3 M492.2,840.30 L490.2,839.20 H485.5 M492.2,840.30 L490.2,841.40 H485.5" stroke="#4f7888" stroke-width="0.6" fill="none"/>
<circle cx="474.1" cy="840.30" r="2.65" fill="url(#ball)" stroke="#263f48" stroke-width="0.65"/>
<circle cx="494.7" cy="840.30" r="2.65" fill="url(#ball)" stroke="#263f48" stroke-width="0.65"/>
<path d="M476.6,845.85 L478.6,844.75 H483.3 M476.6,845.85 L478.6,846.95 H483.3 M492.2,845.85 L490.2,844.75 H485.5 M492.2,845.85 L490.2,846.95 H485.5" stroke="#4f7888" stroke-width="0.6" fill="none"/>
<circle cx="474.1" cy="845.85" r="2.65" fill="url(#ball)" stroke="#263f48" stroke-width="0.65"/>
<circle cx="494.7" cy="845.85" r="2.65" fill="url(#ball)" stroke="#263f48" stroke-width="0.65"/>
<path d="M476.6,851.40 L478.6,850.30 H483.3 M476.6,851.40 L478.6,852.50 H483.3 M492.2,851.40 L490.2,850.30 H485.5 M492.2,851.40 L490.2,852.50 H485.5" stroke="#4f7888" stroke-width="0.6" fill="none"/>
<circle cx="474.1" cy="851.40" r="2.65" fill="url(#ball)" stroke="#263f48" stroke-width="0.65"/>
<circle cx="494.7" cy="851.40" r="2.65" fill="url(#ball)" stroke="#263f48" stroke-width="0.65"/>
<path d="M476.6,856.95 L478.6,855.85 H483.3 M476.6,856.95 L478.6,858.05 H483.3 M492.2,856.95 L490.2,855.85 H485.5 M492.2,856.95 L490.2,858.05 H485.5" stroke="#4f7888" stroke-width="0.6" fill="none"/>
<circle cx="474.1" cy="856.95" r="2.65" fill="url(#ball)" stroke="#263f48" stroke-width="0.65"/>
<circle cx="494.7" cy="856.95" r="2.65" fill="url(#ball)" stroke="#263f48" stroke-width="0.65"/>
<path d="M476.6,862.50 L478.6,861.40 H483.3 M476.6,862.50 L478.6,863.60 H483.3 M492.2,862.50 L490.2,861.40 H485.5 M492.2,862.50 L490.2,863.60 H485.5" stroke="#4f7888" stroke-width="0.6" fill="none"/>
<circle cx="474.1" cy="862.50" r="2.65" fill="url(#ball)" stroke="#263f48" stroke-width="0.65"/>
<circle cx="494.7" cy="862.50" r="2.65" fill="url(#ball)" stroke="#263f48" stroke-width="0.65"/>
<path d="M476.6,868.05 L478.6,866.95 H483.3 M476.6,868.05 L478.6,869.15 H483.3 M492.2,868.05 L490.2,866.95 H485.5 M492.2,868.05 L490.2,869.15 H485.5" stroke="#4f7888" stroke-width="0.6" fill="none"/>
<circle cx="474.1" cy="868.05" r="2.65" fill="url(#ball)" stroke="#263f48" stroke-width="0.65"/>
<circle cx="494.7" cy="868.05" r="2.65" fill="url(#ball)" stroke="#263f48" stroke-width="0.65"/>
<path d="M476.6,873.60 L478.6,872.50 H483.3 M476.6,873.60 L478.6,874.70 H483.3 M492.2,873.60 L490.2,872.50 H485.5 M492.2,873.60 L490.2,874.70 H485.5" stroke="#4f7888" stroke-width="0.6" fill="none"/>
<circle cx="474.1" cy="873.60" r="2.65" fill="url(#ball)" stroke="#263f48" stroke-width="0.65"/>
<circle cx="494.7" cy="873.60" r="2.65" fill="url(#ball)" stroke="#263f48" stroke-width="0.65"/>
<path d="M476.6,879.15 L478.6,878.05 H483.3 M476.6,879.15 L478.6,880.25 H483.3 M492.2,879.15 L490.2,878.05 H485.5 M492.2,879.15 L490.2,880.25 H485.5" stroke="#4f7888" stroke-width="0.6" fill="none"/>
<circle cx="474.1" cy="879.15" r="2.65" fill="url(#ball)" stroke="#263f48" stroke-width="0.65"/>
<circle cx="494.7" cy="879.15" r="2.65" fill="url(#ball)" stroke="#263f48" stroke-width="0.65"/>
<path d="M476.6,884.70 L478.6,883.60 H483.3 M476.6,884.70 L478.6,885.80 H483.3 M492.2,884.70 L490.2,883.60 H485.5 M492.2,884.70 L490.2,885.80 H485.5" stroke="#4f7888" stroke-width="0.6" fill="none"/>
<circle cx="474.1" cy="884.70" r="2.65" fill="url(#ball)" stroke="#263f48" stroke-width="0.65"/>
<circle cx="494.7" cy="884.70" r="2.65" fill="url(#ball)" stroke="#263f48" stroke-width="0.65"/>
<path d="M476.6,890.25 L478.6,889.15 H483.3 M476.6,890.25 L478.6,891.35 H483.3 M492.2,890.25 L490.2,889.15 H485.5 M492.2,890.25 L490.2,891.35 H485.5" stroke="#4f7888" stroke-width="0.6" fill="none"/>
<circle cx="474.1" cy="890.25" r="2.65" fill="url(#ball)" stroke="#263f48" stroke-width="0.65"/>
<circle cx="494.7" cy="890.25" r="2.65" fill="url(#ball)" stroke="#263f48" stroke-width="0.65"/>
<path d="M476.6,895.80 L478.6,894.70 H483.3 M476.6,895.80 L478.6,896.90 H483.3 M492.2,895.80 L490.2,894.70 H485.5 M492.2,895.80 L490.2,896.90 H485.5" stroke="#4f7888" stroke-width="0.6" fill="none"/>
<circle cx="474.1" cy="895.80" r="2.65" fill="url(#ball)" stroke="#263f48" stroke-width="0.65"/>
<circle cx="494.7" cy="895.80" r="2.65" fill="url(#ball)" stroke="#263f48" stroke-width="0.65"/>
<path d="M476.6,901.35 L478.6,900.25 H483.3 M476.6,901.35 L478.6,902.45 H483.3 M492.2,901.35 L490.2,900.25 H485.5 M492.2,901.35 L490.2,902.45 H485.5" stroke="#4f7888" stroke-width="0.6" fill="none"/>
<circle cx="474.1" cy="901.35" r="2.65" fill="url(#ball)" stroke="#263f48" stroke-width="0.65"/>
<circle cx="494.7" cy="901.35" r="2.65" fill="url(#ball)" stroke="#263f48" stroke-width="0.65"/>
<path d="M476.6,906.90 L478.6,905.80 H483.3 M476.6,906.90 L478.6,908.00 H483.3 M492.2,906.90 L490.2,905.80 H485.5 M492.2,906.90 L490.2,908.00 H485.5" stroke="#4f7888" stroke-width="0.6" fill="none"/>
<circle cx="474.1" cy="906.90" r="2.65" fill="url(#ball)" stroke="#263f48" stroke-width="0.65"/>
<circle cx="494.7" cy="906.90" r="2.65" fill="url(#ball)" stroke="#263f48" stroke-width="0.65"/>
<path d="M476.6,912.45 L478.6,911.35 H483.3 M476.6,912.45 L478.6,913.55 H483.3 M492.2,912.45 L490.2,911.35 H485.5 M492.2,912.45 L490.2,913.55 H485.5" stroke="#4f7888" stroke-width="0.6" fill="none"/>
<circle cx="474.1" cy="912.45" r="2.65" fill="url(#ball)" stroke="#263f48" stroke-width="0.65"/>
<circle cx="494.7" cy="912.45" r="2.65" fill="url(#ball)" stroke="#263f48" stroke-width="0.65"/>
<path d="M476.6,918.00 L478.6,916.90 H483.3 M476.6,918.00 L478.6,919.10 H483.3 M492.2,918.00 L490.2,916.90 H485.5 M492.2,918.00 L490.2,919.10 H485.5" stroke="#4f7888" stroke-width="0.6" fill="none"/>
<circle cx="474.1" cy="918.00" r="2.65" fill="url(#ball)" stroke="#263f48" stroke-width="0.65"/>
<circle cx="494.7" cy="918.00" r="2.65" fill="url(#ball)" stroke="#263f48" stroke-width="0.65"/>
<path d="M476.6,923.55 L478.6,922.45 H483.3 M476.6,923.55 L478.6,924.65 H483.3 M492.2,923.55 L490.2,922.45 H485.5 M492.2,923.55 L490.2,924.65 H485.5" stroke="#4f7888" stroke-width="0.6" fill="none"/>
<circle cx="474.1" cy="923.55" r="2.65" fill="url(#ball)" stroke="#263f48" stroke-width="0.65"/>
<circle cx="494.7" cy="923.55" r="2.65" fill="url(#ball)" stroke="#263f48" stroke-width="0.65"/>
<path d="M476.6,929.10 L478.6,928.00 H483.3 M476.6,929.10 L478.6,930.20 H483.3 M492.2,929.10 L490.2,928.00 H485.5 M492.2,929.10 L490.2,930.20 H485.5" stroke="#4f7888" stroke-width="0.6" fill="none"/>
<circle cx="474.1" cy="929.10" r="2.65" fill="url(#ball)" stroke="#263f48" stroke-width="0.65"/>
<circle cx="494.7" cy="929.10" r="2.65" fill="url(#ball)" stroke="#263f48" stroke-width="0.65"/>
<path d="M476.6,934.65 L478.6,933.55 H483.3 M476.6,934.65 L478.6,935.75 H483.3 M492.2,934.65 L490.2,933.55 H485.5 M492.2,934.65 L490.2,935.75 H485.5" stroke="#4f7888" stroke-width="0.6" fill="none"/>
<circle cx="474.1" cy="934.65" r="2.65" fill="url(#ball)" stroke="#263f48" stroke-width="0.65"/>
<circle cx="494.7" cy="934.65" r="2.65" fill="url(#ball)" stroke="#263f48" stroke-width="0.65"/>
<ellipse cx="615.5" cy="849.5" rx="47.6" ry="77.6" fill="none" stroke="#dbc2d8" stroke-width="3.4" stroke-dasharray="25.5,5.8" stroke-dashoffset="3" stroke-linecap="round"/>
<path d="M469.6,840.6 Q469.2,837 474,837 Q486,838.4 497.4,842.4 L497.4,848.3 L486,848.3 Q478,846.8 472.2,845 Q469.6,843.8 469.6,840.6 Z" fill="#e0656c" stroke="#4e1016" stroke-width="0.6"/>
<path d="M469.6,856.6 Q469.2,860.2 474,860.2 Q486,858.8 497.4,854.4 L497.4,848.7 L486,848.7 Q478,850.2 472.2,852.2 Q469.6,853.4 469.6,856.6 Z" fill="#e0656c" stroke="#4e1016" stroke-width="0.6"/>
<path d="M472.2,845 Q478,846.8 486,848.3 L486,848.7 Q478,850.2 472.2,852.2 Q470.4,848.6 472.2,845 Z" fill="#7c1620" stroke="#4e1016" stroke-width="0.5"/>
<path d="M470.2,841.5 Q470.6,844 472.6,845.2 Q479,847 486,848.3 L487,847.2 Q479,845.8 474,844.2 Q471.2,843.4 470.2,841.5 Z" fill="#a82a36"/>
<path d="M470.2,855.6 Q470.6,853.2 472.6,852 Q479,850.2 486,848.7 L487,849.8 Q479,851.4 474,853 Q471.2,853.8 470.2,855.6 Z" fill="#a82a36"/>
<path d="M472,838.6 Q480,838.4 496.8,843.4" fill="none" stroke="#f5a5a8" stroke-width="0.9"/>
<path d="M472.5,858.8 Q484,858.2 496.8,853.6" fill="none" stroke="#f09496" stroke-width="0.7"/>
<ellipse cx="485" cy="848.5" rx="2.5" ry="2.2" fill="#7a1420" stroke="#3a080c" stroke-width="0.5"/>
<text x="462.90" y="850.60" font-size="6.4" font-weight="normal" text-anchor="middle" fill="#1a1a1a" >Rac1</text>
<g fill="none" stroke="#f09a9c" stroke-width="0.8" stroke-linejoin="round" stroke-linecap="round"><path d="M435.4,815.5 L439.4,815.5 L440.6,819 L437.1,821.9 L433.9,819.3 Z"/><path d="M433.9,819.3 L427.8,820.8 M440.6,819 L444.7,820.8 M441,818.1 L445,819.9"/><path d="M437.1,821.9 L435.9,825.4 L433.6,828.4 L433.3,831.9 M436.3,822 L435.1,825.2"/><path d="M433.3,831.9 L437.1,833.6 L436.8,837.7 L433.3,839.5 L430.1,837.7 L430.4,833.6 Z"/><path d="M437.1,833.6 L440.6,831.9 M437.6,834.6 L441.1,832.9 M430.4,833.6 L430.7,830.1"/><path d="M430.4,833.6 L426.6,831.9 L423.4,833.6 L423.4,837.7 L426.6,840 L430.1,837.7"/><path d="M423.4,838.9 L417.8,840 M426.6,840 L424.8,843 L424.6,845.9 L427.5,846.5"/></g>
<path d="M426.6,840 L429.8,842.2 L429,843.2 Z" fill="#f09a9c" stroke="#f09a9c" stroke-width="0.6"/>
<text x="434.70" y="812.00" font-size="6.0" font-weight="bold" text-anchor="middle" fill="#222" >Andro</text>
<circle cx="434.1" cy="857.4" r="2.95" fill="url(#egf)" stroke="#2b86ab" stroke-width="0.45"/>
<circle cx="441.8" cy="862.0" r="2.95" fill="url(#egf)" stroke="#2b86ab" stroke-width="0.45"/>
<circle cx="434.1" cy="867.9" r="2.95" fill="url(#egf)" stroke="#2b86ab" stroke-width="0.45"/>
<text x="436.60" y="878.60" font-size="6.0" font-weight="bold" text-anchor="middle" fill="#222" >EGF</text>
<path d="M445.2,831 Q459,829.5 466,841.2" fill="none" stroke="#26355f" stroke-width="1.15" marker-end="url(#ah)"/>
<path d="M445.5,862.4 Q459,864 465,852" fill="none" stroke="#26355f" stroke-width="1.15" marker-end="url(#ah)"/>
<path d="M502.7,848.3 H539.3" fill="none" stroke="#26355f" stroke-width="1.15" marker-end="url(#ah)"/>
<path d="M560.9,838.8 L590.6,819.4" fill="none" stroke="#26355f" stroke-width="1.15" marker-end="url(#ah)"/>
<path d="M560.9,864.4 L590.6,882.6" fill="none" stroke="#26355f" stroke-width="1.15" marker-end="url(#ah)"/>
<path d="M546.5,833.2 Q551,830.8 555.5,832.6 Q558.8,834.6 558.2,841.5 Q557.8,846.5 560.4,851 Q562.6,857 560.2,862.4 Q557.2,866.6 549.5,866 Q543.2,865.4 542.6,860 Q541.8,853 542.2,844 Q542.4,836 546.5,833.2 Z" fill="#e2545a" stroke="#5c1417" stroke-width="0.55"/>
<path d="M557.2,842 Q557,848 559.8,852.5 Q561.8,858 559.6,862 Q557.5,865.2 552,865.6 Q557.6,862.6 558.2,857 Q558.4,851 555.8,846.6 Z" fill="#c0282e"/>
<path d="M545,838 Q547,833.8 551.4,833.6 Q546.8,836 546.2,842 Q545.8,848 545.8,855 Q544,850 544.4,844 Z" fill="#f28a8e"/>
<text x="550.20" y="874.80" font-size="5.8" font-weight="bold" text-anchor="middle" fill="#222" >JNK1</text>
<g>
<path d="M615,818.5 C600,824 599.5,838 604.5,849 C608.5,857 612,863 607,871.5" fill="none" stroke="#2c4a2c" stroke-width="2.8"/>
<path d="M615,818.5 C600,824 599.5,838 604.5,849 C608.5,857 612,863 607,871.5" fill="none" stroke="#5cb462" stroke-width="1.6"/>
<line x1="602.5" y1="833.0" x2="605.7" y2="832.6" stroke="#4a8ad0" stroke-width="0.7"/>
<line x1="603.0" y1="838.0" x2="606.2" y2="837.6" stroke="#c84a6a" stroke-width="0.7"/>
<line x1="604.6" y1="843.5" x2="607.8" y2="843.1" stroke="#e8c84a" stroke-width="0.7"/>
<line x1="606.5" y1="848.5" x2="609.7" y2="848.1" stroke="#4a6ad0" stroke-width="0.7"/>
<line x1="608.6" y1="853.5" x2="611.8" y2="853.1" stroke="#c84a6a" stroke-width="0.7"/>
<line x1="610.0" y1="858.0" x2="613.2" y2="857.6" stroke="#4aa0d0" stroke-width="0.7"/>
<line x1="610.0" y1="863.0" x2="613.2" y2="862.6" stroke="#9a5ac0" stroke-width="0.7"/>
<line x1="619.74" y1="820.52" x2="622.34" y2="825.99" stroke="#e8c84a" stroke-width="0.7"/>
<line x1="623.06" y1="822.92" x2="623.51" y2="828.15" stroke="#4a6ad0" stroke-width="0.7"/>
<line x1="625.95" y1="825.64" x2="624.50" y2="830.47" stroke="#9a5ac0" stroke-width="0.7"/>
<line x1="628.42" y1="828.65" x2="625.32" y2="832.90" stroke="#e88a3a" stroke-width="0.7"/>
<line x1="630.45" y1="831.90" x2="625.96" y2="835.44" stroke="#4aa0d0" stroke-width="0.7"/>
<line x1="632.05" y1="835.34" x2="626.42" y2="838.05" stroke="#d04a6a" stroke-width="0.7"/>
<line x1="633.20" y1="838.92" x2="626.70" y2="840.70" stroke="#e8c84a" stroke-width="0.7"/>
<line x1="633.91" y1="842.60" x2="626.79" y2="843.38" stroke="#4a6ad0" stroke-width="0.7"/>
<line x1="634.17" y1="846.32" x2="626.69" y2="846.05" stroke="#9a5ac0" stroke-width="0.7"/>
<line x1="633.97" y1="850.05" x2="626.39" y2="848.69" stroke="#e88a3a" stroke-width="0.7"/>
<line x1="633.31" y1="853.73" x2="625.90" y2="851.28" stroke="#4aa0d0" stroke-width="0.7"/>
<line x1="632.19" y1="857.33" x2="625.20" y2="853.79" stroke="#d04a6a" stroke-width="0.7"/>
<line x1="630.60" y1="860.78" x2="624.31" y2="856.20" stroke="#e8c84a" stroke-width="0.7"/>
<line x1="628.54" y1="864.05" x2="623.21" y2="858.47" stroke="#4a6ad0" stroke-width="0.7"/>
<line x1="626.01" y1="867.09" x2="621.90" y2="860.59" stroke="#9a5ac0" stroke-width="0.7"/>
<line x1="622.99" y1="869.85" x2="620.37" y2="862.53" stroke="#e88a3a" stroke-width="0.7"/>
<line x1="619.48" y1="872.29" x2="618.63" y2="864.26" stroke="#4aa0d0" stroke-width="0.7"/>
<line x1="615.49" y1="874.35" x2="616.68" y2="865.76" stroke="#d04a6a" stroke-width="0.7"/>
<path d="M616,818.5 C641,830 641,867 611,876" fill="none" stroke="#2c4a4a" stroke-width="2.8"/>
<path d="M616,818.5 C641,830 641,867 611,876" fill="none" stroke="#5cb462" stroke-width="1.6"/>
<path d="M621,824 C630,836 629,860 614.5,867" fill="none" stroke="#2c4a4a" stroke-width="2.8"/>
<path d="M621,824 C630,836 629,860 614.5,867" fill="none" stroke="#6cc0d8" stroke-width="1.6"/>
<path d="M620.5,822.5 L631,810.5 L637.5,822.5 L645.5,809.5" fill="none" stroke="#2c4a5a" stroke-width="3.2" stroke-linejoin="round"/>
<path d="M620.5,822.5 L631,810.5 L637.5,822.5 L645.5,809.5" fill="none" stroke="#6cc0d8" stroke-width="2.0" stroke-linejoin="round"/>
<line x1="624" y1="816.5" x2="625.8" y2="818.3" stroke="#e0903a" stroke-width="0.7"/>
<line x1="627" y1="813.5" x2="628.8" y2="815.3" stroke="#e0903a" stroke-width="0.7"/>
<line x1="633.5" y1="815" x2="635.3" y2="816.8" stroke="#e0903a" stroke-width="0.7"/>
<line x1="635.5" y1="818.5" x2="637.3" y2="820.3" stroke="#e0903a" stroke-width="0.7"/>
<line x1="640" y1="817.5" x2="641.8" y2="819.3" stroke="#e0903a" stroke-width="0.7"/>
<line x1="642.5" y1="813.5" x2="644.3" y2="815.3" stroke="#e0903a" stroke-width="0.7"/>
<line x1="598.38" y1="796.87" x2="599.29" y2="796.38" stroke="#d04a6a" stroke-width="0.7"/>
<line x1="596.94" y1="799.15" x2="603.00" y2="795.85" stroke="#e8c84a" stroke-width="0.7"/>
<line x1="597.55" y1="800.30" x2="605.74" y2="795.85" stroke="#4a6ad0" stroke-width="0.7"/>
<line x1="600.22" y1="800.34" x2="606.44" y2="796.96" stroke="#9a5ac0" stroke-width="0.7"/>
<line x1="603.92" y1="799.82" x2="605.07" y2="799.20" stroke="#d04a6a" stroke-width="0.7"/>
<line x1="607.12" y1="799.57" x2="602.62" y2="802.02" stroke="#e8c84a" stroke-width="0.7"/>
<line x1="608.54" y1="800.29" x2="600.63" y2="804.59" stroke="#4a6ad0" stroke-width="0.7"/>
<line x1="607.77" y1="802.20" x2="600.41" y2="806.20" stroke="#9a5ac0" stroke-width="0.7"/>
<line x1="605.51" y1="804.92" x2="602.38" y2="806.62" stroke="#d04a6a" stroke-width="0.7"/>
<line x1="603.21" y1="807.66" x2="605.87" y2="806.21" stroke="#e8c84a" stroke-width="0.7"/>
<line x1="602.32" y1="809.63" x2="609.44" y2="805.76" stroke="#4a6ad0" stroke-width="0.7"/>
<line x1="603.61" y1="810.42" x2="611.62" y2="806.06" stroke="#9a5ac0" stroke-width="0.7"/>
<line x1="606.74" y1="810.21" x2="611.65" y2="807.54" stroke="#d04a6a" stroke-width="0.7"/>
<line x1="610.45" y1="809.68" x2="609.80" y2="810.03" stroke="#e8c84a" stroke-width="0.7"/>
<line x1="613.22" y1="809.67" x2="607.33" y2="812.86" stroke="#4a6ad0" stroke-width="0.7"/>
<line x1="613.96" y1="810.75" x2="605.77" y2="815.20" stroke="#9a5ac0" stroke-width="0.7"/>
<line x1="612.61" y1="812.97" x2="606.23" y2="816.44" stroke="#d04a6a" stroke-width="0.7"/>
<line x1="610.17" y1="815.79" x2="608.77" y2="816.55" stroke="#e8c84a" stroke-width="0.7"/>
<line x1="608.17" y1="818.37" x2="612.45" y2="816.04" stroke="#4a6ad0" stroke-width="0.7"/>
<path d="M597.03,796.61 L598.10,796.53 L599.29,796.38 L600.54,796.20 L601.80,796.01 L603.00,795.85 L604.09,795.76 L605.02,795.75 L605.74,795.85 L606.22,796.09 L606.46,796.46 L606.44,796.96 L606.18,797.60 L605.71,798.35 L605.07,799.20 L604.30,800.11 L603.46,801.06 L602.62,802.02 L601.83,802.94 L601.15,803.81 L600.63,804.59 L600.32,805.25 L600.24,805.79 L600.41,806.20 L600.84,806.46 L601.50,806.60 L602.38,806.62 L603.44,806.54 L604.62,806.40 L605.87,806.21 L607.13,806.02 L608.34,805.86 L609.44,805.76 L610.38,805.75 L611.12,805.84 L611.62,806.06 L611.88,806.42 L611.88,806.91 L611.65,807.54 L611.19,808.28 L610.56,809.12 L609.80,810.03 L608.97,810.98 L608.13,811.94 L607.33,812.86 L606.64,813.74 L606.11,814.52 L605.77,815.20 L605.67,815.75 L605.82,816.17 L606.23,816.44 L606.87,816.59 L607.73,816.62 L608.77,816.55 L609.94,816.41 L611.19,816.23 L612.45,816.04 L613.67,815.87 L614.78,815.77 L615.74,815.74 L616.50,815.83" fill="none" stroke="#2c4a2c" stroke-width="2.8" stroke-linejoin="round"/>
<path d="M597.03,796.61 L598.10,796.53 L599.29,796.38 L600.54,796.20 L601.80,796.01 L603.00,795.85 L604.09,795.76 L605.02,795.75 L605.74,795.85 L606.22,796.09 L606.46,796.46 L606.44,796.96 L606.18,797.60 L605.71,798.35 L605.07,799.20 L604.30,800.11 L603.46,801.06 L602.62,802.02 L601.83,802.94 L601.15,803.81 L600.63,804.59 L600.32,805.25 L600.24,805.79 L600.41,806.20 L600.84,806.46 L601.50,806.60 L602.38,806.62 L603.44,806.54 L604.62,806.40 L605.87,806.21 L607.13,806.02 L608.34,805.86 L609.44,805.76 L610.38,805.75 L611.12,805.84 L611.62,806.06 L611.88,806.42 L611.88,806.91 L611.65,807.54 L611.19,808.28 L610.56,809.12 L609.80,810.03 L608.97,810.98 L608.13,811.94 L607.33,812.86 L606.64,813.74 L606.11,814.52 L605.77,815.20 L605.67,815.75 L605.82,816.17 L606.23,816.44 L606.87,816.59 L607.73,816.62 L608.77,816.55 L609.94,816.41 L611.19,816.23 L612.45,816.04 L613.67,815.87 L614.78,815.77 L615.74,815.74 L616.50,815.83" fill="none" stroke="#8fd08a" stroke-width="2.0" stroke-linejoin="round"/>
<path d="M600.00,795.00 L599.16,795.95 L598.38,796.87 L597.72,797.73 L597.23,798.49 L596.94,799.15 L596.89,799.67 L597.09,800.06 L597.55,800.30 L598.24,800.42 L599.14,800.43 L600.22,800.34 L601.41,800.19 L602.66,800.01 L603.92,799.82 L605.12,799.67 L606.20,799.57 L607.12,799.57 L607.83,799.68 L608.31,799.92 L608.54,800.29 L608.51,800.80 L608.24,801.44 L607.77,802.20 L607.12,803.05 L606.35,803.97 L605.51,804.92 L604.67,805.87 L603.88,806.79 L603.21,807.66 L602.70,808.43 L602.39,809.09 L602.32,809.63 L602.50,810.03 L602.93,810.29 L603.61,810.42 L604.49,810.43 L605.55,810.36 L606.74,810.21 L607.99,810.02 L609.25,809.84 L610.45,809.68 L611.55,809.58 L612.49,809.57 L613.22,809.67 L613.71,809.89 L613.96,810.25 L613.96,810.75 L613.71,811.38 L613.25,812.13 L612.61,812.97 L611.85,813.88 L611.02,814.83 L610.17,815.79 L609.38,816.72 L608.69,817.59 L608.17,818.37 L607.84,819.04 L607.75,819.59 L607.91,820.00 L608.32,820.27" fill="none" stroke="#2c4a2c" stroke-width="2.8" stroke-linejoin="round"/>
<path d="M600.00,795.00 L599.16,795.95 L598.38,796.87 L597.72,797.73 L597.23,798.49 L596.94,799.15 L596.89,799.67 L597.09,800.06 L597.55,800.30 L598.24,800.42 L599.14,800.43 L600.22,800.34 L601.41,800.19 L602.66,800.01 L603.92,799.82 L605.12,799.67 L606.20,799.57 L607.12,799.57 L607.83,799.68 L608.31,799.92 L608.54,800.29 L608.51,800.80 L608.24,801.44 L607.77,802.20 L607.12,803.05 L606.35,803.97 L605.51,804.92 L604.67,805.87 L603.88,806.79 L603.21,807.66 L602.70,808.43 L602.39,809.09 L602.32,809.63 L602.50,810.03 L602.93,810.29 L603.61,810.42 L604.49,810.43 L605.55,810.36 L606.74,810.21 L607.99,810.02 L609.25,809.84 L610.45,809.68 L611.55,809.58 L612.49,809.57 L613.22,809.67 L613.71,809.89 L613.96,810.25 L613.96,810.75 L613.71,811.38 L613.25,812.13 L612.61,812.97 L611.85,813.88 L611.02,814.83 L610.17,815.79 L609.38,816.72 L608.69,817.59 L608.17,818.37 L607.84,819.04 L607.75,819.59 L607.91,820.00 L608.32,820.27" fill="none" stroke="#4fae5a" stroke-width="2.0" stroke-linejoin="round"/>
<line x1="602.70" y1="869.63" x2="604.28" y2="869.29" stroke="#d04a6a" stroke-width="0.7"/>
<line x1="600.80" y1="871.74" x2="608.42" y2="870.10" stroke="#e8c84a" stroke-width="0.7"/>
<line x1="601.92" y1="873.20" x2="610.78" y2="871.29" stroke="#4a6ad0" stroke-width="0.7"/>
<line x1="605.57" y1="874.11" x2="610.08" y2="873.14" stroke="#9a5ac0" stroke-width="0.7"/>
<line x1="609.67" y1="874.93" x2="606.98" y2="875.51" stroke="#d04a6a" stroke-width="0.7"/>
<line x1="611.85" y1="876.16" x2="603.67" y2="877.92" stroke="#e8c84a" stroke-width="0.7"/>
<line x1="610.97" y1="878.05" x2="602.45" y2="879.89" stroke="#4a6ad0" stroke-width="0.7"/>
<line x1="607.79" y1="880.44" x2="604.31" y2="881.19" stroke="#9a5ac0" stroke-width="0.7"/>
<line x1="604.54" y1="882.84" x2="608.30" y2="882.03" stroke="#d04a6a" stroke-width="0.7"/>
<line x1="603.50" y1="884.76" x2="612.12" y2="882.90" stroke="#e8c84a" stroke-width="0.7"/>
<line x1="605.54" y1="886.02" x2="613.59" y2="884.29" stroke="#4a6ad0" stroke-width="0.7"/>
<line x1="609.59" y1="886.85" x2="611.99" y2="886.33" stroke="#9a5ac0" stroke-width="0.7"/>
<line x1="613.33" y1="887.74" x2="608.56" y2="888.77" stroke="#d04a6a" stroke-width="0.7"/>
<line x1="614.60" y1="889.17" x2="605.68" y2="891.09" stroke="#e8c84a" stroke-width="0.7"/>
<line x1="612.84" y1="891.25" x2="605.39" y2="892.86" stroke="#4a6ad0" stroke-width="0.7"/>
<line x1="609.37" y1="893.70" x2="608.09" y2="893.97" stroke="#9a5ac0" stroke-width="0.7"/>
<line x1="606.60" y1="896.00" x2="612.30" y2="894.77" stroke="#d04a6a" stroke-width="0.7"/>
<line x1="606.50" y1="897.72" x2="615.59" y2="895.76" stroke="#e8c84a" stroke-width="0.7"/>
<line x1="609.36" y1="898.80" x2="616.09" y2="897.35" stroke="#4a6ad0" stroke-width="0.7"/>
<path d="M601.70,868.71 L602.91,869.02 L604.28,869.29 L605.72,869.55 L607.13,869.81 L608.42,870.10 L609.50,870.43 L610.31,870.82 L610.78,871.29 L610.89,871.83 L610.65,872.45 L610.08,873.14 L609.22,873.89 L608.16,874.69 L606.98,875.51 L605.77,876.34 L604.64,877.15 L603.67,877.92 L602.94,878.65 L602.52,879.30 L602.45,879.89 L602.73,880.39 L603.36,880.82 L604.31,881.19 L605.50,881.50 L606.86,881.77 L608.30,882.03 L609.72,882.29 L611.02,882.57 L612.12,882.90 L612.95,883.29 L613.45,883.75 L613.59,884.29 L613.37,884.90 L612.82,885.59 L611.99,886.33 L610.94,887.12 L609.77,887.94 L608.56,888.77 L607.41,889.59 L606.43,890.36 L605.68,891.09 L605.23,891.76 L605.13,892.34 L605.39,892.86 L606.00,893.29 L606.92,893.66 L608.09,893.97 L609.44,894.25 L610.88,894.51 L612.30,894.77 L613.62,895.05 L614.74,895.38 L615.59,895.76 L616.11,896.21 L616.28,896.74 L616.09,897.35 L615.57,898.03 L614.76,898.77 L613.72,899.56 L612.55,900.38" fill="none" stroke="#2c4a2c" stroke-width="2.8" stroke-linejoin="round"/>
<path d="M601.70,868.71 L602.91,869.02 L604.28,869.29 L605.72,869.55 L607.13,869.81 L608.42,870.10 L609.50,870.43 L610.31,870.82 L610.78,871.29 L610.89,871.83 L610.65,872.45 L610.08,873.14 L609.22,873.89 L608.16,874.69 L606.98,875.51 L605.77,876.34 L604.64,877.15 L603.67,877.92 L602.94,878.65 L602.52,879.30 L602.45,879.89 L602.73,880.39 L603.36,880.82 L604.31,881.19 L605.50,881.50 L606.86,881.77 L608.30,882.03 L609.72,882.29 L611.02,882.57 L612.12,882.90 L612.95,883.29 L613.45,883.75 L613.59,884.29 L613.37,884.90 L612.82,885.59 L611.99,886.33 L610.94,887.12 L609.77,887.94 L608.56,888.77 L607.41,889.59 L606.43,890.36 L605.68,891.09 L605.23,891.76 L605.13,892.34 L605.39,892.86 L606.00,893.29 L606.92,893.66 L608.09,893.97 L609.44,894.25 L610.88,894.51 L612.30,894.77 L613.62,895.05 L614.74,895.38 L615.59,895.76 L616.11,896.21 L616.28,896.74 L616.09,897.35 L615.57,898.03 L614.76,898.77 L613.72,899.56 L612.55,900.38" fill="none" stroke="#8fd08a" stroke-width="2.0" stroke-linejoin="round"/>
<path d="M605.00,868.00 L603.80,868.82 L602.70,869.63 L601.79,870.39 L601.13,871.10 L600.80,871.74 L600.82,872.30 L601.20,872.79 L601.92,873.20 L602.93,873.55 L604.18,873.84 L605.57,874.11 L607.01,874.37 L608.41,874.63 L609.67,874.93 L610.70,875.27 L611.45,875.68 L611.85,876.16 L611.90,876.72 L611.59,877.35 L610.97,878.05 L610.07,878.81 L608.98,879.61 L607.79,880.44 L606.58,881.26 L605.47,882.07 L604.54,882.84 L603.87,883.55 L603.51,884.19 L603.50,884.76 L603.85,885.25 L604.55,885.67 L605.54,886.02 L606.77,886.32 L608.15,886.59 L609.59,886.85 L611.00,887.11 L612.27,887.41 L613.33,887.74 L614.09,888.15 L614.53,888.62 L614.60,889.17 L614.32,889.80 L613.72,890.49 L612.84,891.25 L611.76,892.05 L610.57,892.87 L609.37,893.70 L608.25,894.51 L607.30,895.28 L606.60,896.00 L606.22,896.64 L606.18,897.22 L606.50,897.72 L607.17,898.14 L608.15,898.50 L609.36,898.80 L610.73,899.07 L612.18,899.33 L613.59,899.59 L614.87,899.88" fill="none" stroke="#2c4a2c" stroke-width="2.8" stroke-linejoin="round"/>
<path d="M605.00,868.00 L603.80,868.82 L602.70,869.63 L601.79,870.39 L601.13,871.10 L600.80,871.74 L600.82,872.30 L601.20,872.79 L601.92,873.20 L602.93,873.55 L604.18,873.84 L605.57,874.11 L607.01,874.37 L608.41,874.63 L609.67,874.93 L610.70,875.27 L611.45,875.68 L611.85,876.16 L611.90,876.72 L611.59,877.35 L610.97,878.05 L610.07,878.81 L608.98,879.61 L607.79,880.44 L606.58,881.26 L605.47,882.07 L604.54,882.84 L603.87,883.55 L603.51,884.19 L603.50,884.76 L603.85,885.25 L604.55,885.67 L605.54,886.02 L606.77,886.32 L608.15,886.59 L609.59,886.85 L611.00,887.11 L612.27,887.41 L613.33,887.74 L614.09,888.15 L614.53,888.62 L614.60,889.17 L614.32,889.80 L613.72,890.49 L612.84,891.25 L611.76,892.05 L610.57,892.87 L609.37,893.70 L608.25,894.51 L607.30,895.28 L606.60,896.00 L606.22,896.64 L606.18,897.22 L606.50,897.72 L607.17,898.14 L608.15,898.50 L609.36,898.80 L610.73,899.07 L612.18,899.33 L613.59,899.59 L614.87,899.88" fill="none" stroke="#4fae5a" stroke-width="2.0" stroke-linejoin="round"/>
</g>
<path d="M592.8,801.8 Q595.6,799.2 598.4,801.8 Q600,804.6 602.4,806.2 Q605.6,808.6 604.6,814.2 Q603.6,820.2 597.8,820.8 Q592.4,821 591.6,815.8 Q591.2,811.5 592.6,808.5 Q591.2,804.6 592.8,801.8 Z" fill="#e98ea8" stroke="#7a3048" stroke-width="0.5"/>
<text x="598.60" y="814.80" font-size="6.0" font-weight="normal" text-anchor="middle" fill="#3a2a2a" >Fos</text>
<path d="M594.5,869.5 Q599.5,866.6 604.5,868.4 Q606.6,871 605.2,876 Q604.4,881.5 605.8,887 Q606.2,892.6 600.5,893.6 Q595.4,894.4 594,890.4 Q593,884 593.6,878 Q593.4,872.5 594.5,869.5 Z" fill="#5cb6d8" stroke="#1e5e7a" stroke-width="0.5"/>
<path d="M595.5,871 Q598,868.8 601,869.2 Q597.6,871.2 597,876 Q596.6,882 597.2,888 Q595.4,884 595.2,878 Z" fill="#9cd8ee"/>
<text x="594.20" y="861.80" font-size="6.0" font-weight="bold" text-anchor="middle" fill="#222" >Jun</text>
</svg>
</body></html>
